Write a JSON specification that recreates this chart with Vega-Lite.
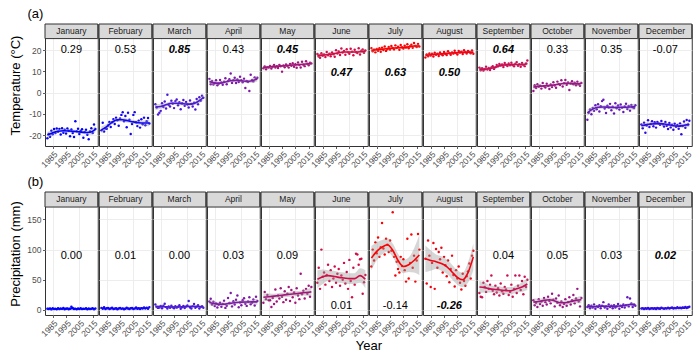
{
"$schema": "https://vega.github.io/schema/vega-lite/v6.json",
"padding": {"left": 8, "top": 8, "right": 12, "bottom": 6},
"data": {"name": "d"},
"datasets": {"d": [
{"m":1,"name":"January","tt":"0.29","ts":false,"pt":"0.00","ps":false},
{"m":2,"name":"February","tt":"0.53","ts":false,"pt":"0.01","ps":false},
{"m":3,"name":"March","tt":"0.85","ts":true,"pt":"0.00","ps":false},
{"m":4,"name":"April","tt":"0.43","ts":false,"pt":"0.03","ps":false},
{"m":5,"name":"May","tt":"0.45","ts":true,"pt":"0.09","ps":false},
{"m":6,"name":"June","tt":"0.47","ts":true,"pt":"0.01","ps":false},
{"m":7,"name":"July","tt":"0.63","ts":true,"pt":"-0.14","ps":false},
{"m":8,"name":"August","tt":"0.50","ts":true,"pt":"-0.26","ps":true},
{"m":9,"name":"September","tt":"0.64","ts":true,"pt":"0.04","ps":false},
{"m":10,"name":"October","tt":"0.33","ts":false,"pt":"0.05","ps":false},
{"m":11,"name":"November","tt":"0.35","ts":false,"pt":"0.03","ps":false},
{"m":12,"name":"December","tt":"-0.07","ts":false,"pt":"0.02","ps":true},
{"m":1,"yr":1981,"f":-20.0,"fl":-21.5,"fh":-18.5,"g":2.2,"gl":1.2,"gh":3.2},
{"m":1,"yr":1985,"f":-18.9,"fl":-20.1,"fh":-17.8,"g":2.1,"gl":1.35,"gh":2.85},
{"m":1,"yr":1989,"f":-18.2,"fl":-19.0,"fh":-17.4,"g":2.1,"gl":1.6,"gh":2.6},
{"m":1,"yr":1993,"f":-18.0,"fl":-18.8,"fh":-17.2,"g":2.2,"gl":1.7,"gh":2.7},
{"m":1,"yr":1997,"f":-18.1,"fl":-18.9,"fh":-17.3,"g":2.3,"gl":1.8,"gh":2.8},
{"m":1,"yr":2001,"f":-18.3,"fl":-19.1,"fh":-17.5,"g":2.2,"gl":1.7,"gh":2.7},
{"m":1,"yr":2005,"f":-18.5,"fl":-19.3,"fh":-17.7,"g":2.1,"gl":1.6,"gh":2.6},
{"m":1,"yr":2009,"f":-18.8,"fl":-19.6,"fh":-18.0,"g":2.1,"gl":1.6,"gh":2.6},
{"m":1,"yr":2013,"f":-18.7,"fl":-19.9,"fh":-17.6,"g":2.1,"gl":1.35,"gh":2.85},
{"m":1,"yr":2017,"f":-17.3,"fl":-18.8,"fh":-15.8,"g":2.0,"gl":1.0,"gh":3.0},
{"m":2,"yr":1981,"f":-17.6,"fl":-19.2,"fh":-16.0,"g":2.8,"gl":1.7,"gh":3.9},
{"m":2,"yr":1985,"f":-16.0,"fl":-17.3,"fh":-14.8,"g":2.6,"gl":1.8,"gh":3.4},
{"m":2,"yr":1989,"f":-14.0,"fl":-14.9,"fh":-13.1,"g":2.5,"gl":2.0,"gh":3.0},
{"m":2,"yr":1993,"f":-12.8,"fl":-13.7,"fh":-11.9,"g":2.5,"gl":2.0,"gh":3.0},
{"m":2,"yr":1997,"f":-12.8,"fl":-13.7,"fh":-11.9,"g":2.5,"gl":2.0,"gh":3.0},
{"m":2,"yr":2001,"f":-13.3,"fl":-14.2,"fh":-12.4,"g":2.4,"gl":1.9,"gh":2.9},
{"m":2,"yr":2005,"f":-13.8,"fl":-14.7,"fh":-12.9,"g":2.5,"gl":2.0,"gh":3.0},
{"m":2,"yr":2009,"f":-14.2,"fl":-15.1,"fh":-13.3,"g":2.7,"gl":2.2,"gh":3.2},
{"m":2,"yr":2013,"f":-14.3,"fl":-15.6,"fh":-13.1,"g":3.0,"gl":2.2,"gh":3.8},
{"m":2,"yr":2017,"f":-14.3,"fl":-15.9,"fh":-12.7,"g":3.4,"gl":2.3,"gh":4.5},
{"m":3,"yr":1981,"f":-6.8,"fl":-8.2,"fh":-5.4,"g":5.8,"gl":3.3,"gh":8.3},
{"m":3,"yr":1985,"f":-6.5,"fl":-7.6,"fh":-5.4,"g":5.6,"gl":3.75,"gh":7.45},
{"m":3,"yr":1989,"f":-5.7,"fl":-6.5,"fh":-4.9,"g":5.2,"gl":4.0,"gh":6.4},
{"m":3,"yr":1993,"f":-5.0,"fl":-5.8,"fh":-4.2,"g":5.0,"gl":3.8,"gh":6.2},
{"m":3,"yr":1997,"f":-5.0,"fl":-5.8,"fh":-4.2,"g":5.0,"gl":3.8,"gh":6.2},
{"m":3,"yr":2001,"f":-5.2,"fl":-6.0,"fh":-4.4,"g":5.2,"gl":4.0,"gh":6.4},
{"m":3,"yr":2005,"f":-5.4,"fl":-6.2,"fh":-4.6,"g":5.8,"gl":4.6,"gh":7.0},
{"m":3,"yr":2009,"f":-5.3,"fl":-6.1,"fh":-4.5,"g":6.2,"gl":5.0,"gh":7.4},
{"m":3,"yr":2013,"f":-4.2,"fl":-5.3,"fh":-3.1,"g":5.8,"gl":3.95,"gh":7.65},
{"m":3,"yr":2017,"f":-2.3,"fl":-3.7,"fh":-0.9,"g":5.0,"gl":2.5,"gh":7.5},
{"m":4,"yr":1981,"f":5.2,"fl":3.9,"fh":6.5,"g":12.5,"gl":7.5,"gh":17.5},
{"m":4,"yr":1985,"f":4.5,"fl":3.5,"fh":5.5,"g":10.5,"gl":6.6,"gh":14.4},
{"m":4,"yr":1989,"f":4.5,"fl":3.8,"fh":5.2,"g":9.5,"gl":6.7,"gh":12.3},
{"m":4,"yr":1993,"f":5.0,"fl":4.3,"fh":5.7,"g":9.8,"gl":7.0,"gh":12.6},
{"m":4,"yr":1997,"f":5.6,"fl":4.9,"fh":6.3,"g":11.2,"gl":8.4,"gh":14.0},
{"m":4,"yr":2001,"f":5.8,"fl":5.1,"fh":6.5,"g":12.5,"gl":9.7,"gh":15.3},
{"m":4,"yr":2005,"f":5.6,"fl":4.9,"fh":6.3,"g":13.0,"gl":10.2,"gh":15.8},
{"m":4,"yr":2009,"f":5.3,"fl":4.6,"fh":6.0,"g":13.3,"gl":10.5,"gh":16.1},
{"m":4,"yr":2013,"f":5.6,"fl":4.6,"fh":6.6,"g":13.5,"gl":9.6,"gh":17.4},
{"m":4,"yr":2017,"f":6.5,"fl":5.2,"fh":7.8,"g":13.5,"gl":8.5,"gh":18.5},
{"m":5,"yr":1981,"f":11.9,"fl":11.1,"fh":12.7,"g":21,"gl":14,"gh":28},
{"m":5,"yr":1985,"f":12.1,"fl":11.5,"fh":12.7,"g":22,"gl":16.5,"gh":27.5},
{"m":5,"yr":1989,"f":12.3,"fl":11.85,"fh":12.75,"g":23,"gl":19,"gh":27},
{"m":5,"yr":1993,"f":12.5,"fl":12.05,"fh":12.95,"g":24,"gl":20,"gh":28},
{"m":5,"yr":1997,"f":12.7,"fl":12.25,"fh":13.15,"g":25,"gl":21,"gh":29},
{"m":5,"yr":2001,"f":12.9,"fl":12.45,"fh":13.35,"g":26,"gl":22,"gh":30},
{"m":5,"yr":2005,"f":13.1,"fl":12.65,"fh":13.55,"g":27,"gl":23,"gh":31},
{"m":5,"yr":2009,"f":13.3,"fl":12.85,"fh":13.75,"g":28,"gl":24,"gh":32},
{"m":5,"yr":2013,"f":13.5,"fl":12.9,"fh":14.1,"g":29,"gl":23.5,"gh":34.5},
{"m":5,"yr":2017,"f":13.7,"fl":12.9,"fh":14.5,"g":30,"gl":23,"gh":37},
{"m":6,"yr":1981,"f":17.6,"fl":16.6,"fh":18.6,"g":51,"gl":36,"gh":66},
{"m":6,"yr":1985,"f":17.7,"fl":16.95,"fh":18.45,"g":55,"gl":43,"gh":67},
{"m":6,"yr":1989,"f":18.0,"fl":17.5,"fh":18.5,"g":57,"gl":48,"gh":66},
{"m":6,"yr":1993,"f":18.3,"fl":17.8,"fh":18.8,"g":56,"gl":47,"gh":65},
{"m":6,"yr":1997,"f":18.8,"fl":18.3,"fh":19.3,"g":54,"gl":45,"gh":63},
{"m":6,"yr":2001,"f":19.2,"fl":18.7,"fh":19.7,"g":53,"gl":44,"gh":62},
{"m":6,"yr":2005,"f":19.2,"fl":18.7,"fh":19.7,"g":52,"gl":43,"gh":61},
{"m":6,"yr":2009,"f":19.2,"fl":18.7,"fh":19.7,"g":52,"gl":43,"gh":61},
{"m":6,"yr":2013,"f":19.3,"fl":18.55,"fh":20.05,"g":57,"gl":45,"gh":69},
{"m":6,"yr":2017,"f":19.6,"fl":18.6,"fh":20.6,"g":51,"gl":36,"gh":66},
{"m":7,"yr":1981,"f":20.0,"fl":19.1,"fh":20.9,"g":86,"gl":66,"gh":106},
{"m":7,"yr":1985,"f":20.2,"fl":19.5,"fh":20.9,"g":97,"gl":82,"gh":112},
{"m":7,"yr":1989,"f":20.5,"fl":20.0,"fh":21.0,"g":104,"gl":92,"gh":116},
{"m":7,"yr":1993,"f":20.8,"fl":20.3,"fh":21.3,"g":108,"gl":97,"gh":119},
{"m":7,"yr":1997,"f":21.0,"fl":20.5,"fh":21.5,"g":99,"gl":88,"gh":110},
{"m":7,"yr":2001,"f":21.2,"fl":20.7,"fh":21.7,"g":82,"gl":71,"gh":93},
{"m":7,"yr":2005,"f":21.3,"fl":20.8,"fh":21.8,"g":72,"gl":61,"gh":83},
{"m":7,"yr":2009,"f":21.6,"fl":21.1,"fh":22.1,"g":75,"gl":63,"gh":87},
{"m":7,"yr":2013,"f":22.0,"fl":21.3,"fh":22.7,"g":82,"gl":62,"gh":102},
{"m":7,"yr":2017,"f":22.0,"fl":21.1,"fh":22.9,"g":91,"gl":58,"gh":124},
{"m":8,"yr":1981,"f":17.6,"fl":16.8,"fh":18.4,"g":85,"gl":63,"gh":107},
{"m":8,"yr":1985,"f":17.9,"fl":17.3,"fh":18.5,"g":82,"gl":65,"gh":99},
{"m":8,"yr":1989,"f":18.1,"fl":17.65,"fh":18.55,"g":80,"gl":68,"gh":92},
{"m":8,"yr":1993,"f":18.3,"fl":17.85,"fh":18.75,"g":77,"gl":65,"gh":89},
{"m":8,"yr":1997,"f":18.5,"fl":18.05,"fh":18.95,"g":72,"gl":60,"gh":84},
{"m":8,"yr":2001,"f":18.7,"fl":18.25,"fh":19.15,"g":63,"gl":51,"gh":75},
{"m":8,"yr":2005,"f":18.8,"fl":18.35,"fh":19.25,"g":54,"gl":42,"gh":66},
{"m":8,"yr":2009,"f":19.0,"fl":18.55,"fh":19.45,"g":50,"gl":38,"gh":62},
{"m":8,"yr":2013,"f":19.1,"fl":18.5,"fh":19.7,"g":62,"gl":45,"gh":79},
{"m":8,"yr":2017,"f":19.0,"fl":18.2,"fh":19.8,"g":88,"gl":66,"gh":110},
{"m":9,"yr":1981,"f":11.1,"fl":10.2,"fh":12.0,"g":38,"gl":28,"gh":48},
{"m":9,"yr":1985,"f":11.1,"fl":10.4,"fh":11.8,"g":37,"gl":29,"gh":45},
{"m":9,"yr":1989,"f":11.4,"fl":10.9,"fh":11.9,"g":35,"gl":29,"gh":41},
{"m":9,"yr":1993,"f":12.0,"fl":11.5,"fh":12.5,"g":34,"gl":28,"gh":40},
{"m":9,"yr":1997,"f":12.8,"fl":12.3,"fh":13.3,"g":33,"gl":27,"gh":39},
{"m":9,"yr":2001,"f":13.1,"fl":12.6,"fh":13.6,"g":32,"gl":26,"gh":38},
{"m":9,"yr":2005,"f":13.2,"fl":12.7,"fh":13.7,"g":32,"gl":26,"gh":38},
{"m":9,"yr":2009,"f":13.3,"fl":12.8,"fh":13.8,"g":35,"gl":29,"gh":41},
{"m":9,"yr":2013,"f":13.2,"fl":12.5,"fh":13.9,"g":38,"gl":30,"gh":46},
{"m":9,"yr":2017,"f":13.8,"fl":12.9,"fh":14.7,"g":43,"gl":33,"gh":53},
{"m":10,"yr":1981,"f":2.6,"fl":1.5,"fh":3.7,"g":13,"gl":7,"gh":19},
{"m":10,"yr":1985,"f":3.0,"fl":2.15,"fh":3.85,"g":14,"gl":9.25,"gh":18.75},
{"m":10,"yr":1989,"f":3.2,"fl":2.6,"fh":3.8,"g":16,"gl":12.5,"gh":19.5},
{"m":10,"yr":1993,"f":3.3,"fl":2.7,"fh":3.9,"g":17,"gl":13.5,"gh":20.5},
{"m":10,"yr":1997,"f":3.7,"fl":3.1,"fh":4.3,"g":15,"gl":11.5,"gh":18.5},
{"m":10,"yr":2001,"f":4.1,"fl":3.5,"fh":4.7,"g":12,"gl":8.5,"gh":15.5},
{"m":10,"yr":2005,"f":4.4,"fl":3.8,"fh":5.0,"g":12,"gl":8.5,"gh":15.5},
{"m":10,"yr":2009,"f":4.3,"fl":3.7,"fh":4.9,"g":14,"gl":10.5,"gh":17.5},
{"m":10,"yr":2013,"f":4.2,"fl":3.35,"fh":5.05,"g":16,"gl":11.25,"gh":20.75},
{"m":10,"yr":2017,"f":4.3,"fl":3.2,"fh":5.4,"g":17,"gl":11,"gh":23},
{"m":11,"yr":1981,"f":-9.5,"fl":-11.0,"fh":-8.0,"g":6,"gl":3,"gh":9},
{"m":11,"yr":1985,"f":-7.8,"fl":-8.95,"fh":-6.65,"g":5.5,"gl":3.1,"gh":7.9},
{"m":11,"yr":1989,"f":-6.9,"fl":-7.7,"fh":-6.1,"g":6,"gl":4.2,"gh":7.8},
{"m":11,"yr":1993,"f":-6.8,"fl":-7.6,"fh":-6.0,"g":6.5,"gl":4.7,"gh":8.3},
{"m":11,"yr":1997,"f":-6.9,"fl":-7.7,"fh":-6.1,"g":6,"gl":4.2,"gh":7.8},
{"m":11,"yr":2001,"f":-7.0,"fl":-7.8,"fh":-6.2,"g":6,"gl":4.2,"gh":7.8},
{"m":11,"yr":2005,"f":-6.9,"fl":-7.7,"fh":-6.1,"g":6.5,"gl":4.7,"gh":8.3},
{"m":11,"yr":2009,"f":-6.9,"fl":-7.7,"fh":-6.1,"g":7.5,"gl":5.7,"gh":9.3},
{"m":11,"yr":2013,"f":-6.8,"fl":-7.95,"fh":-5.65,"g":9,"gl":6.6,"gh":11.4},
{"m":11,"yr":2017,"f":-6.6,"fl":-8.1,"fh":-5.1,"g":8.5,"gl":5.5,"gh":11.5},
{"m":12,"yr":1981,"f":-15.6,"fl":-16.8,"fh":-14.4,"g":2.5,"gl":1.6,"gh":3.4},
{"m":12,"yr":1985,"f":-15.1,"fl":-16.05,"fh":-14.15,"g":2.6,"gl":1.8,"gh":3.4},
{"m":12,"yr":1989,"f":-14.8,"fl":-15.5,"fh":-14.1,"g":2.6,"gl":2.1,"gh":3.1},
{"m":12,"yr":1993,"f":-14.6,"fl":-15.3,"fh":-13.9,"g":2.7,"gl":2.2,"gh":3.2},
{"m":12,"yr":1997,"f":-14.7,"fl":-15.4,"fh":-14.0,"g":2.8,"gl":2.3,"gh":3.3},
{"m":12,"yr":2001,"f":-15.1,"fl":-15.8,"fh":-14.4,"g":3.0,"gl":2.5,"gh":3.5},
{"m":12,"yr":2005,"f":-15.6,"fl":-16.3,"fh":-14.9,"g":3.2,"gl":2.7,"gh":3.7},
{"m":12,"yr":2009,"f":-15.8,"fl":-16.5,"fh":-15.1,"g":3.5,"gl":3.0,"gh":4.0},
{"m":12,"yr":2013,"f":-15.4,"fl":-16.35,"fh":-14.45,"g":3.9,"gl":3.2,"gh":4.6},
{"m":12,"yr":2017,"f":-15.0,"fl":-16.2,"fh":-13.8,"g":4.4,"gl":3.5,"gh":5.3},
{"m":1,"yr":1981,"t":-21.5,"p":2.0},{"m":1,"yr":1982,"t":-19.5,"p":1.5},{"m":1,"yr":1983,"t":-20.8,"p":2.5},{"m":1,"yr":1984,"t":-18.0,"p":1.0},{"m":1,"yr":1985,"t":-19.6,"p":3.0},{"m":1,"yr":1986,"t":-17.2,"p":1.8},{"m":1,"yr":1987,"t":-19.0,"p":2.2},{"m":1,"yr":1988,"t":-16.9,"p":1.2},{"m":1,"yr":1989,"t":-18.5,"p":2.8},{"m":1,"yr":1990,"t":-17.1,"p":1.6},
{"m":1,"yr":1991,"t":-19.8,"p":2.4},{"m":1,"yr":1992,"t":-16.8,"p":1.9},{"m":1,"yr":1993,"t":-18.9,"p":3.2},{"m":1,"yr":1994,"t":-17.5,"p":1.4},{"m":1,"yr":1995,"t":-19.3,"p":2.1},{"m":1,"yr":1996,"t":-16.9,"p":2.7},{"m":1,"yr":1997,"t":-18.0,"p":1.3},{"m":1,"yr":1998,"t":-20.6,"p":2.0},{"m":1,"yr":1999,"t":-17.4,"p":5.5},{"m":1,"yr":2000,"t":-19.0,"p":3.5},
{"m":1,"yr":2001,"t":-20.9,"p":1.7},{"m":1,"yr":2002,"t":-13.5,"p":2.3},{"m":1,"yr":2003,"t":-18.2,"p":1.1},{"m":1,"yr":2004,"t":-17.0,"p":2.6},{"m":1,"yr":2005,"t":-19.5,"p":1.8},{"m":1,"yr":2006,"t":-18.1,"p":3.0},{"m":1,"yr":2007,"t":-17.3,"p":1.5},{"m":1,"yr":2008,"t":-21.3,"p":2.2},{"m":1,"yr":2009,"t":-18.6,"p":1.9},{"m":1,"yr":2010,"t":-17.5,"p":2.9},
{"m":1,"yr":2011,"t":-19.9,"p":1.4},{"m":1,"yr":2012,"t":-22.0,"p":2.5},{"m":1,"yr":2013,"t":-18.3,"p":1.6},{"m":1,"yr":2014,"t":-16.8,"p":2.0},{"m":1,"yr":2015,"t":-19.0,"p":3.1},{"m":1,"yr":2016,"t":-15.0,"p":1.2},{"m":1,"yr":2017,"t":-17.2,"p":2.4},
{"m":2,"yr":1981,"t":-17.8,"p":3.5},{"m":2,"yr":1982,"t":-14.2,"p":2.0},{"m":2,"yr":1983,"t":-18.3,"p":4.5},{"m":2,"yr":1984,"t":-16.9,"p":1.5},{"m":2,"yr":1985,"t":-17.0,"p":2.8},{"m":2,"yr":1986,"t":-15.5,"p":3.2},{"m":2,"yr":1987,"t":-13.8,"p":1.8},{"m":2,"yr":1988,"t":-16.2,"p":2.4},{"m":2,"yr":1989,"t":-14.0,"p":3.8},{"m":2,"yr":1990,"t":-12.5,"p":1.6},
{"m":2,"yr":1991,"t":-14.8,"p":2.2},{"m":2,"yr":1992,"t":-11.8,"p":3.0},{"m":2,"yr":1993,"t":-13.0,"p":1.4},{"m":2,"yr":1994,"t":-15.6,"p":2.6},{"m":2,"yr":1995,"t":-12.2,"p":3.4},{"m":2,"yr":1996,"t":-10.5,"p":1.9},{"m":2,"yr":1997,"t":-9.3,"p":2.7},{"m":2,"yr":1998,"t":-13.5,"p":1.3},{"m":2,"yr":1999,"t":-11.0,"p":2.1},{"m":2,"yr":2000,"t":-16.3,"p":3.6},
{"m":2,"yr":2001,"t":-9.5,"p":2.5},{"m":2,"yr":2002,"t":-12.8,"p":1.7},{"m":2,"yr":2003,"t":-19.5,"p":2.9},{"m":2,"yr":2004,"t":-14.8,"p":3.3},{"m":2,"yr":2005,"t":-10.5,"p":1.5},{"m":2,"yr":2006,"t":-9.2,"p":2.3},{"m":2,"yr":2007,"t":-14.0,"p":4.0},{"m":2,"yr":2008,"t":-15.8,"p":2.0},{"m":2,"yr":2009,"t":-13.2,"p":2.8},{"m":2,"yr":2010,"t":-16.5,"p":1.8},
{"m":2,"yr":2011,"t":-12.6,"p":3.1},{"m":2,"yr":2012,"t":-14.9,"p":2.4},{"m":2,"yr":2013,"t":-11.8,"p":4.2},{"m":2,"yr":2014,"t":-15.4,"p":2.6},{"m":2,"yr":2015,"t":-13.5,"p":3.9},{"m":2,"yr":2016,"t":-12.0,"p":2.2},{"m":2,"yr":2017,"t":-14.6,"p":4.8},
{"m":3,"yr":1981,"t":-5.5,"p":9.0},{"m":3,"yr":1982,"t":-7.0,"p":5.0},{"m":3,"yr":1983,"t":-10.3,"p":3.5},{"m":3,"yr":1984,"t":-9.5,"p":4.2},{"m":3,"yr":1985,"t":-8.6,"p":6.5},{"m":3,"yr":1986,"t":-5.0,"p":3.0},{"m":3,"yr":1987,"t":-6.8,"p":7.2},{"m":3,"yr":1988,"t":-4.2,"p":10.5},{"m":3,"yr":1989,"t":-7.5,"p":4.8},{"m":3,"yr":1990,"t":-1.0,"p":2.5},
{"m":3,"yr":1991,"t":-5.8,"p":5.8},{"m":3,"yr":1992,"t":-6.5,"p":3.6},{"m":3,"yr":1993,"t":-3.8,"p":7.0},{"m":3,"yr":1994,"t":-5.2,"p":4.4},{"m":3,"yr":1995,"t":-7.3,"p":2.8},{"m":3,"yr":1996,"t":-4.0,"p":6.2},{"m":3,"yr":1997,"t":-3.2,"p":3.9},{"m":3,"yr":1998,"t":-6.0,"p":5.3},{"m":3,"yr":1999,"t":-4.5,"p":8.0},{"m":3,"yr":2000,"t":-7.8,"p":2.2},
{"m":3,"yr":2001,"t":-5.0,"p":4.6},{"m":3,"yr":2002,"t":-3.5,"p":6.8},{"m":3,"yr":2003,"t":-6.2,"p":3.3},{"m":3,"yr":2004,"t":-4.4,"p":5.6},{"m":3,"yr":2005,"t":-5.6,"p":7.5},{"m":3,"yr":2006,"t":-7.0,"p":15.0},{"m":3,"yr":2007,"t":-3.7,"p":4.0},{"m":3,"yr":2008,"t":-5.3,"p":2.6},{"m":3,"yr":2009,"t":-6.5,"p":6.0},{"m":3,"yr":2010,"t":-4.8,"p":9.8},
{"m":3,"yr":2011,"t":-8.0,"p":3.7},{"m":3,"yr":2012,"t":-3.0,"p":5.2},{"m":3,"yr":2013,"t":-5.5,"p":7.8},{"m":3,"yr":2014,"t":-2.2,"p":2.4},{"m":3,"yr":2015,"t":-3.8,"p":4.9},{"m":3,"yr":2016,"t":-1.5,"p":6.4},{"m":3,"yr":2017,"t":-2.4,"p":3.8},
{"m":4,"yr":1981,"t":6.5,"p":14.0},{"m":4,"yr":1982,"t":4.0,"p":18.5},{"m":4,"yr":1983,"t":5.5,"p":9.0},{"m":4,"yr":1984,"t":3.8,"p":13.5},{"m":4,"yr":1985,"t":4.5,"p":6.5},{"m":4,"yr":1986,"t":5.8,"p":11.0},{"m":4,"yr":1987,"t":3.5,"p":4.0},{"m":4,"yr":1988,"t":4.2,"p":8.5},{"m":4,"yr":1989,"t":6.0,"p":12.0},{"m":4,"yr":1990,"t":4.8,"p":5.5},
{"m":4,"yr":1991,"t":3.7,"p":9.8},{"m":4,"yr":1992,"t":5.2,"p":15.5},{"m":4,"yr":1993,"t":6.8,"p":3.5},{"m":4,"yr":1994,"t":4.0,"p":7.0},{"m":4,"yr":1995,"t":5.5,"p":20.0},{"m":4,"yr":1996,"t":6.3,"p":11.5},{"m":4,"yr":1997,"t":9.0,"p":28.0},{"m":4,"yr":1998,"t":4.6,"p":6.0},{"m":4,"yr":1999,"t":5.9,"p":14.5},{"m":4,"yr":2000,"t":7.0,"p":9.0},
{"m":4,"yr":2001,"t":4.5,"p":17.0},{"m":4,"yr":2002,"t":6.2,"p":24.0},{"m":4,"yr":2003,"t":5.0,"p":4.5},{"m":4,"yr":2004,"t":7.5,"p":12.5},{"m":4,"yr":2005,"t":5.8,"p":8.0},{"m":4,"yr":2006,"t":4.9,"p":16.0},{"m":4,"yr":2007,"t":6.6,"p":19.5},{"m":4,"yr":2008,"t":2.2,"p":10.5},{"m":4,"yr":2009,"t":5.5,"p":6.8},{"m":4,"yr":2010,"t":5.0,"p":14.0},
{"m":4,"yr":2011,"t":0.8,"p":21.0},{"m":4,"yr":2012,"t":8.4,"p":9.5},{"m":4,"yr":2013,"t":6.0,"p":12.0},{"m":4,"yr":2014,"t":5.3,"p":17.5},{"m":4,"yr":2015,"t":7.2,"p":7.5},{"m":4,"yr":2016,"t":6.4,"p":22.0},{"m":4,"yr":2017,"t":7.0,"p":15.0},
{"m":5,"yr":1981,"t":11.5,"p":12},{"m":5,"yr":1982,"t":12.3,"p":30},{"m":5,"yr":1983,"t":11.0,"p":18},{"m":5,"yr":1984,"t":12.0,"p":25},{"m":5,"yr":1985,"t":11.8,"p":16},{"m":5,"yr":1986,"t":12.6,"p":16},{"m":5,"yr":1987,"t":11.4,"p":5},{"m":5,"yr":1988,"t":12.2,"p":20},{"m":5,"yr":1989,"t":13.0,"p":10},{"m":5,"yr":1990,"t":11.9,"p":34},
{"m":5,"yr":1991,"t":12.5,"p":14},{"m":5,"yr":1992,"t":11.6,"p":24},{"m":5,"yr":1993,"t":13.1,"p":19},{"m":5,"yr":1994,"t":12.4,"p":36},{"m":5,"yr":1995,"t":9.9,"p":22},{"m":5,"yr":1996,"t":12.8,"p":13},{"m":5,"yr":1997,"t":12.0,"p":31},{"m":5,"yr":1998,"t":13.3,"p":17},{"m":5,"yr":1999,"t":12.6,"p":27},{"m":5,"yr":2000,"t":11.8,"p":38},
{"m":5,"yr":2001,"t":13.5,"p":15},{"m":5,"yr":2002,"t":12.7,"p":33},{"m":5,"yr":2003,"t":13.9,"p":21},{"m":5,"yr":2004,"t":12.2,"p":29},{"m":5,"yr":2005,"t":13.4,"p":12},{"m":5,"yr":2006,"t":11.7,"p":36},{"m":5,"yr":2007,"t":14.2,"p":24},{"m":5,"yr":2008,"t":13.0,"p":18},{"m":5,"yr":2009,"t":11.9,"p":60},{"m":5,"yr":2010,"t":14.6,"p":26},
{"m":5,"yr":2011,"t":13.2,"p":32},{"m":5,"yr":2012,"t":12.5,"p":19},{"m":5,"yr":2013,"t":14.8,"p":35},{"m":5,"yr":2014,"t":13.6,"p":27},{"m":5,"yr":2015,"t":12.9,"p":40},{"m":5,"yr":2016,"t":14.1,"p":22},{"m":5,"yr":2017,"t":13.8,"p":38},
{"m":6,"yr":1981,"t":18.2,"p":45},{"m":6,"yr":1982,"t":17.0,"p":70},{"m":6,"yr":1983,"t":16.5,"p":35},{"m":6,"yr":1984,"t":18.6,"p":100},{"m":6,"yr":1985,"t":17.4,"p":55},{"m":6,"yr":1986,"t":18.0,"p":62},{"m":6,"yr":1987,"t":16.8,"p":42},{"m":6,"yr":1988,"t":19.2,"p":58},{"m":6,"yr":1989,"t":17.6,"p":75},{"m":6,"yr":1990,"t":18.4,"p":48},
{"m":6,"yr":1991,"t":17.2,"p":66},{"m":6,"yr":1992,"t":19.0,"p":38},{"m":6,"yr":1993,"t":18.1,"p":52},{"m":6,"yr":1994,"t":16.9,"p":72},{"m":6,"yr":1995,"t":20.0,"p":45},{"m":6,"yr":1996,"t":18.5,"p":60},{"m":6,"yr":1997,"t":19.4,"p":68},{"m":6,"yr":1998,"t":17.8,"p":40},{"m":6,"yr":1999,"t":20.8,"p":57},{"m":6,"yr":2000,"t":18.9,"p":50},
{"m":6,"yr":2001,"t":19.6,"p":78},{"m":6,"yr":2002,"t":17.9,"p":44},{"m":6,"yr":2003,"t":20.5,"p":63},{"m":6,"yr":2004,"t":19.0,"p":35},{"m":6,"yr":2005,"t":18.3,"p":83},{"m":6,"yr":2006,"t":20.7,"p":48},{"m":6,"yr":2007,"t":19.3,"p":21},{"m":6,"yr":2008,"t":17.6,"p":70},{"m":6,"yr":2009,"t":20.2,"p":42},{"m":6,"yr":2010,"t":19.1,"p":93},
{"m":6,"yr":2011,"t":18.7,"p":92},{"m":6,"yr":2012,"t":20.9,"p":75},{"m":6,"yr":2013,"t":18.0,"p":84},{"m":6,"yr":2014,"t":19.8,"p":85},{"m":6,"yr":2015,"t":20.4,"p":27},{"m":6,"yr":2016,"t":18.8,"p":46},{"m":6,"yr":2017,"t":19.9,"p":58},
{"m":7,"yr":1981,"t":21.0,"p":72},{"m":7,"yr":1982,"t":19.5,"p":100},{"m":7,"yr":1983,"t":20.2,"p":82},{"m":7,"yr":1984,"t":19.0,"p":112},{"m":7,"yr":1985,"t":20.6,"p":94},{"m":7,"yr":1986,"t":19.8,"p":120},{"m":7,"yr":1987,"t":20.9,"p":88},{"m":7,"yr":1988,"t":19.3,"p":104},{"m":7,"yr":1989,"t":21.2,"p":144},{"m":7,"yr":1990,"t":20.1,"p":102},
{"m":7,"yr":1991,"t":21.8,"p":92},{"m":7,"yr":1992,"t":19.7,"p":118},{"m":7,"yr":1993,"t":20.5,"p":108},{"m":7,"yr":1994,"t":21.5,"p":96},{"m":7,"yr":1995,"t":20.3,"p":115},{"m":7,"yr":1996,"t":22.0,"p":98},{"m":7,"yr":1997,"t":21.1,"p":162},{"m":7,"yr":1998,"t":20.4,"p":88},{"m":7,"yr":1999,"t":22.3,"p":57},{"m":7,"yr":2000,"t":21.0,"p":80},
{"m":7,"yr":2001,"t":21.7,"p":68},{"m":7,"yr":2002,"t":20.2,"p":62},{"m":7,"yr":2003,"t":22.5,"p":88},{"m":7,"yr":2004,"t":21.4,"p":73},{"m":7,"yr":2005,"t":20.8,"p":84},{"m":7,"yr":2006,"t":22.1,"p":66},{"m":7,"yr":2007,"t":21.3,"p":47},{"m":7,"yr":2008,"t":22.8,"p":118},{"m":7,"yr":2009,"t":20.9,"p":52},{"m":7,"yr":2010,"t":21.9,"p":78},
{"m":7,"yr":2011,"t":22.6,"p":125},{"m":7,"yr":2012,"t":21.2,"p":70},{"m":7,"yr":2013,"t":23.4,"p":90},{"m":7,"yr":2014,"t":22.0,"p":47},{"m":7,"yr":2015,"t":21.5,"p":82},{"m":7,"yr":2016,"t":22.9,"p":126},{"m":7,"yr":2017,"t":21.8,"p":100},
{"m":8,"yr":1981,"t":16.6,"p":85},{"m":8,"yr":1982,"t":18.0,"p":44},{"m":8,"yr":1983,"t":17.2,"p":115},{"m":8,"yr":1984,"t":18.5,"p":90},{"m":8,"yr":1985,"t":17.5,"p":38},{"m":8,"yr":1986,"t":18.3,"p":78},{"m":8,"yr":1987,"t":17.0,"p":111},{"m":8,"yr":1988,"t":18.8,"p":35},{"m":8,"yr":1989,"t":17.9,"p":101},{"m":8,"yr":1990,"t":18.4,"p":70},
{"m":8,"yr":1991,"t":17.3,"p":96},{"m":8,"yr":1992,"t":18.9,"p":84},{"m":8,"yr":1993,"t":18.1,"p":103},{"m":8,"yr":1994,"t":17.6,"p":62},{"m":8,"yr":1995,"t":19.2,"p":88},{"m":8,"yr":1996,"t":18.2,"p":74},{"m":8,"yr":1997,"t":17.8,"p":56},{"m":8,"yr":1998,"t":19.5,"p":82},{"m":8,"yr":1999,"t":18.6,"p":46},{"m":8,"yr":2000,"t":17.9,"p":68},
{"m":8,"yr":2001,"t":19.0,"p":90},{"m":8,"yr":2002,"t":18.4,"p":58},{"m":8,"yr":2003,"t":19.8,"p":39},{"m":8,"yr":2004,"t":18.7,"p":66},{"m":8,"yr":2005,"t":18.0,"p":52},{"m":8,"yr":2006,"t":19.6,"p":72},{"m":8,"yr":2007,"t":18.9,"p":45},{"m":8,"yr":2008,"t":19.3,"p":34},{"m":8,"yr":2009,"t":18.2,"p":60},{"m":8,"yr":2010,"t":20.0,"p":48},
{"m":8,"yr":2011,"t":19.1,"p":40},{"m":8,"yr":2012,"t":18.5,"p":56},{"m":8,"yr":2013,"t":19.7,"p":64},{"m":8,"yr":2014,"t":19.2,"p":77},{"m":8,"yr":2015,"t":18.6,"p":52},{"m":8,"yr":2016,"t":19.9,"p":90},{"m":8,"yr":2017,"t":18.3,"p":98},
{"m":9,"yr":1981,"t":11.8,"p":28},{"m":9,"yr":1982,"t":10.6,"p":22},{"m":9,"yr":1983,"t":11.5,"p":21},{"m":9,"yr":1984,"t":10.4,"p":45},{"m":9,"yr":1985,"t":11.0,"p":38},{"m":9,"yr":1986,"t":12.2,"p":30},{"m":9,"yr":1987,"t":10.9,"p":48},{"m":9,"yr":1988,"t":11.6,"p":35},{"m":9,"yr":1989,"t":10.7,"p":42},{"m":9,"yr":1990,"t":11.9,"p":57},
{"m":9,"yr":1991,"t":12.5,"p":32},{"m":9,"yr":1992,"t":11.2,"p":26},{"m":9,"yr":1993,"t":12.0,"p":40},{"m":9,"yr":1994,"t":13.0,"p":29},{"m":9,"yr":1995,"t":12.4,"p":36},{"m":9,"yr":1996,"t":13.5,"p":24},{"m":9,"yr":1997,"t":12.8,"p":44},{"m":9,"yr":1998,"t":13.3,"p":31},{"m":9,"yr":1999,"t":12.1,"p":27},{"m":9,"yr":2000,"t":14.0,"p":38},
{"m":9,"yr":2001,"t":13.2,"p":34},{"m":9,"yr":2002,"t":12.6,"p":57},{"m":9,"yr":2003,"t":13.8,"p":25},{"m":9,"yr":2004,"t":12.9,"p":30},{"m":9,"yr":2005,"t":14.1,"p":42},{"m":9,"yr":2006,"t":13.0,"p":22},{"m":9,"yr":2007,"t":12.4,"p":35},{"m":9,"yr":2008,"t":13.6,"p":57},{"m":9,"yr":2009,"t":14.4,"p":28},{"m":9,"yr":2010,"t":12.7,"p":40},
{"m":9,"yr":2011,"t":13.4,"p":57},{"m":9,"yr":2012,"t":12.2,"p":33},{"m":9,"yr":2013,"t":14.0,"p":48},{"m":9,"yr":2014,"t":13.1,"p":26},{"m":9,"yr":2015,"t":12.5,"p":55},{"m":9,"yr":2016,"t":13.7,"p":38},{"m":9,"yr":2017,"t":15.2,"p":50},
{"m":10,"yr":1981,"t":0.8,"p":16},{"m":10,"yr":1982,"t":3.5,"p":8},{"m":10,"yr":1983,"t":2.2,"p":12},{"m":10,"yr":1984,"t":4.0,"p":5},{"m":10,"yr":1985,"t":2.8,"p":18},{"m":10,"yr":1986,"t":3.3,"p":10},{"m":10,"yr":1987,"t":1.9,"p":14},{"m":10,"yr":1988,"t":4.6,"p":7},{"m":10,"yr":1989,"t":3.0,"p":20},{"m":10,"yr":1990,"t":2.4,"p":13},
{"m":10,"yr":1991,"t":4.2,"p":9},{"m":10,"yr":1992,"t":3.1,"p":22},{"m":10,"yr":1993,"t":1.7,"p":15},{"m":10,"yr":1994,"t":3.8,"p":11},{"m":10,"yr":1995,"t":2.6,"p":27},{"m":10,"yr":1996,"t":4.9,"p":17},{"m":10,"yr":1997,"t":3.4,"p":6},{"m":10,"yr":1998,"t":2.3,"p":19},{"m":10,"yr":1999,"t":5.2,"p":12},{"m":10,"yr":2000,"t":4.1,"p":24},
{"m":10,"yr":2001,"t":3.6,"p":8},{"m":10,"yr":2002,"t":5.8,"p":14},{"m":10,"yr":2003,"t":2.9,"p":5},{"m":10,"yr":2004,"t":4.4,"p":10},{"m":10,"yr":2005,"t":6.0,"p":18},{"m":10,"yr":2006,"t":3.7,"p":7},{"m":10,"yr":2007,"t":4.8,"p":13},{"m":10,"yr":2008,"t":1.2,"p":21},{"m":10,"yr":2009,"t":4.3,"p":9},{"m":10,"yr":2010,"t":5.4,"p":16},
{"m":10,"yr":2011,"t":3.9,"p":25},{"m":10,"yr":2012,"t":4.7,"p":11},{"m":10,"yr":2013,"t":3.5,"p":19},{"m":10,"yr":2014,"t":5.1,"p":35},{"m":10,"yr":2015,"t":4.0,"p":14},{"m":10,"yr":2016,"t":3.2,"p":6},{"m":10,"yr":2017,"t":4.6,"p":20},
{"m":11,"yr":1981,"t":-12.8,"p":5},{"m":11,"yr":1982,"t":-9.5,"p":8},{"m":11,"yr":1983,"t":-8.0,"p":3},{"m":11,"yr":1984,"t":-10.2,"p":7},{"m":11,"yr":1985,"t":-7.2,"p":4},{"m":11,"yr":1986,"t":-8.6,"p":9},{"m":11,"yr":1987,"t":-6.0,"p":2},{"m":11,"yr":1988,"t":-7.8,"p":6},{"m":11,"yr":1989,"t":-5.5,"p":5},{"m":11,"yr":1990,"t":-8.9,"p":8},
{"m":11,"yr":1991,"t":-6.4,"p":3},{"m":11,"yr":1992,"t":-4.0,"p":7},{"m":11,"yr":1993,"t":-3.4,"p":13},{"m":11,"yr":1994,"t":-7.5,"p":4},{"m":11,"yr":1995,"t":-9.6,"p":6},{"m":11,"yr":1996,"t":-6.2,"p":2},{"m":11,"yr":1997,"t":-7.0,"p":9},{"m":11,"yr":1998,"t":-5.3,"p":5},{"m":11,"yr":1999,"t":-8.3,"p":7},{"m":11,"yr":2000,"t":-6.7,"p":3},
{"m":11,"yr":2001,"t":-9.8,"p":8},{"m":11,"yr":2002,"t":-5.0,"p":4},{"m":11,"yr":2003,"t":-7.4,"p":6},{"m":11,"yr":2004,"t":-6.1,"p":10},{"m":11,"yr":2005,"t":-8.0,"p":2},{"m":11,"yr":2006,"t":-5.6,"p":7},{"m":11,"yr":2007,"t":-7.1,"p":5},{"m":11,"yr":2008,"t":-9.1,"p":9},{"m":11,"yr":2009,"t":-6.5,"p":4},{"m":11,"yr":2010,"t":-5.2,"p":8},
{"m":11,"yr":2011,"t":-7.7,"p":21},{"m":11,"yr":2012,"t":-6.3,"p":6},{"m":11,"yr":2013,"t":-8.5,"p":19},{"m":11,"yr":2014,"t":-5.8,"p":11},{"m":11,"yr":2015,"t":-6.9,"p":5},{"m":11,"yr":2016,"t":-7.3,"p":9},{"m":11,"yr":2017,"t":-6.0,"p":7},
{"m":12,"yr":1981,"t":-15.0,"p":2.5},{"m":12,"yr":1982,"t":-16.8,"p":3.0},{"m":12,"yr":1983,"t":-14.2,"p":1.8},{"m":12,"yr":1984,"t":-18.9,"p":2.8},{"m":12,"yr":1985,"t":-15.5,"p":2.2},{"m":12,"yr":1986,"t":-13.0,"p":3.5},{"m":12,"yr":1987,"t":-16.2,"p":1.5},{"m":12,"yr":1988,"t":-14.8,"p":2.6},{"m":12,"yr":1989,"t":-13.5,"p":3.1},{"m":12,"yr":1990,"t":-15.9,"p":2.0},
{"m":12,"yr":1991,"t":-14.0,"p":2.9},{"m":12,"yr":1992,"t":-16.5,"p":1.7},{"m":12,"yr":1993,"t":-13.8,"p":3.3},{"m":12,"yr":1994,"t":-14.6,"p":2.4},{"m":12,"yr":1995,"t":-15.2,"p":2.1},{"m":12,"yr":1996,"t":-13.4,"p":3.6},{"m":12,"yr":1997,"t":-14.9,"p":2.7},{"m":12,"yr":1998,"t":-16.0,"p":1.9},{"m":12,"yr":1999,"t":-13.9,"p":3.0},{"m":12,"yr":2000,"t":-15.6,"p":2.3},
{"m":12,"yr":2001,"t":-17.2,"p":3.8},{"m":12,"yr":2002,"t":-14.3,"p":2.5},{"m":12,"yr":2003,"t":-16.4,"p":3.2},{"m":12,"yr":2004,"t":-15.1,"p":4.0},{"m":12,"yr":2005,"t":-17.5,"p":2.6},{"m":12,"yr":2006,"t":-14.7,"p":3.4},{"m":12,"yr":2007,"t":-16.1,"p":2.9},{"m":12,"yr":2008,"t":-15.3,"p":4.5},{"m":12,"yr":2009,"t":-17.0,"p":3.1},{"m":12,"yr":2010,"t":-14.5,"p":3.7},
{"m":12,"yr":2011,"t":-19.6,"p":2.8},{"m":12,"yr":2012,"t":-15.8,"p":4.2},{"m":12,"yr":2013,"t":-13.6,"p":3.5},{"m":12,"yr":2014,"t":-16.6,"p":5.0},{"m":12,"yr":2015,"t":-12.9,"p":3.3},{"m":12,"yr":2016,"t":-15.0,"p":4.6},{"m":12,"yr":2017,"t":-13.3,"p":5.5}
]},
"title": {"text": "Year", "orient": "bottom", "anchor": "middle", "fontSize": 13, "fontWeight": "normal", "offset": 2, "dx": 18},
"spacing": 6,
"vconcat": [
{"title": {"text": "(a)", "anchor": "start", "align": "left", "frame": "bounds", "fontSize": 13, "fontWeight": "normal", "offset": 2, "dx": 19},
 "spacing": 1, "bounds": "flush",
 "hconcat": [
{"width":52.75,"height":122,"transform":[{"filter":"datum.m==1"}],"resolve":{"axis":{"x":"independent","y":"independent"}},"layer":[
{"transform":[{"filter":"isValid(datum.t)"}],"mark":{"type":"circle","size":6,"opacity":1,"color":"#0000ff"},"encoding":{"x":{"field":"yr","type":"quantitative","title":null,"scale":{"domain":[1979.2,2018.8],"nice":false,"zero":false},"axis":{"orient":"bottom","values":[1985,2005],"format":"d","gridWidth":0.9}},"y":{"field":"t","type":"quantitative","title":"Temperature (°C)","scale":{"domain":[-25.18,32.38],"nice":false,"zero":false},"axis":{"orient":"left","values":[-20,0,20],"labelExpr":"'' + datum.value","gridWidth":0.9}}}},
{"transform":[{"filter":"isValid(datum.f)"}],"mark":{"type":"area","color":"#999999","opacity":0.4,"interpolate":"monotone"},"encoding":{"x":{"field":"yr","type":"quantitative","title":null,"axis":{"orient":"bottom","values":[1995,2015],"format":"d","gridWidth":0.9}},"y":{"field":"fl","type":"quantitative","title":null,"axis":{"orient":"left","values":[-10,10],"labelExpr":"'' + datum.value","gridWidth":0.9}},"y2":{"field":"fh"}}},
{"transform":[{"filter":"isValid(datum.f)"}],"mark":{"type":"line","strokeWidth":1.6,"interpolate":"monotone","color":"#0000ff"},"encoding":{"x":{"field":"yr","type":"quantitative","title":null,"axis":{"orient":"bottom","values":[1980,1990,2000,2010],"labels":false,"ticks":false,"gridWidth":0.45}},"y":{"field":"f","type":"quantitative","title":null,"axis":{"orient":"left","values":[-25,-15,-5,5,15,25],"labels":false,"ticks":false,"gridWidth":0.45}}}},
{"transform":[{"filter":"isValid(datum.name)"}],"mark":{"type":"rect","fill":"#d9d9d9","stroke":"#333333","strokeWidth":1},"encoding":{"y":{"datum":25.5,"axis":null},"y2":{"datum":32.38}}},
{"transform":[{"filter":"isValid(datum.name)"}],"mark":{"type":"text","fontSize":8.5,"color":"#1a1a1a"},"encoding":{"y":{"datum":28.94,"axis":null},"text":{"field":"name"}}},
{"transform":[{"filter":"isValid(datum.name)"}],"mark":{"type":"text","fontSize":11,"color":"#000000"},"encoding":{"y":{"datum":20,"axis":null},"text":{"field":"tt"}}}
]},
{"width":52.75,"height":122,"transform":[{"filter":"datum.m==2"}],"resolve":{"axis":{"x":"independent","y":"independent"}},"layer":[
{"transform":[{"filter":"isValid(datum.t)"}],"mark":{"type":"circle","size":6,"opacity":1,"color":"#1005f8"},"encoding":{"x":{"field":"yr","type":"quantitative","title":null,"scale":{"domain":[1979.2,2018.8],"nice":false,"zero":false},"axis":{"orient":"bottom","values":[1985,2005],"format":"d","gridWidth":0.9}},"y":{"field":"t","type":"quantitative","title":null,"scale":{"domain":[-25.18,32.38],"nice":false,"zero":false},"axis":{"orient":"left","values":[-20,-10,0,10,20],"labels":false,"ticks":false,"gridWidth":0.9}}}},
{"transform":[{"filter":"isValid(datum.f)"}],"mark":{"type":"area","color":"#999999","opacity":0.4,"interpolate":"monotone"},"encoding":{"x":{"field":"yr","type":"quantitative","title":null,"axis":{"orient":"bottom","values":[1995,2015],"format":"d","gridWidth":0.9}},"y":{"field":"fl","type":"quantitative","title":null,"axis":null},"y2":{"field":"fh"}}},
{"transform":[{"filter":"isValid(datum.f)"}],"mark":{"type":"line","strokeWidth":1.6,"interpolate":"monotone","color":"#1005f8"},"encoding":{"x":{"field":"yr","type":"quantitative","title":null,"axis":{"orient":"bottom","values":[1980,1990,2000,2010],"labels":false,"ticks":false,"gridWidth":0.45}},"y":{"field":"f","type":"quantitative","title":null,"axis":{"orient":"left","values":[-25,-15,-5,5,15,25],"labels":false,"ticks":false,"gridWidth":0.45}}}},
{"transform":[{"filter":"isValid(datum.name)"}],"mark":{"type":"rect","fill":"#d9d9d9","stroke":"#333333","strokeWidth":1},"encoding":{"y":{"datum":25.5,"axis":null},"y2":{"datum":32.38}}},
{"transform":[{"filter":"isValid(datum.name)"}],"mark":{"type":"text","fontSize":8.5,"color":"#1a1a1a"},"encoding":{"y":{"datum":28.94,"axis":null},"text":{"field":"name"}}},
{"transform":[{"filter":"isValid(datum.name)"}],"mark":{"type":"text","fontSize":11,"color":"#000000"},"encoding":{"y":{"datum":20,"axis":null},"text":{"field":"tt"}}}
]},
{"width":52.75,"height":122,"transform":[{"filter":"datum.m==3"}],"resolve":{"axis":{"x":"independent","y":"independent"}},"layer":[
{"transform":[{"filter":"isValid(datum.t)"}],"mark":{"type":"circle","size":6,"opacity":1,"color":"#4a18d8"},"encoding":{"x":{"field":"yr","type":"quantitative","title":null,"scale":{"domain":[1979.2,2018.8],"nice":false,"zero":false},"axis":{"orient":"bottom","values":[1985,2005],"format":"d","gridWidth":0.9}},"y":{"field":"t","type":"quantitative","title":null,"scale":{"domain":[-25.18,32.38],"nice":false,"zero":false},"axis":{"orient":"left","values":[-20,-10,0,10,20],"labels":false,"ticks":false,"gridWidth":0.9}}}},
{"transform":[{"filter":"isValid(datum.f)"}],"mark":{"type":"area","color":"#999999","opacity":0.4,"interpolate":"monotone"},"encoding":{"x":{"field":"yr","type":"quantitative","title":null,"axis":{"orient":"bottom","values":[1995,2015],"format":"d","gridWidth":0.9}},"y":{"field":"fl","type":"quantitative","title":null,"axis":null},"y2":{"field":"fh"}}},
{"transform":[{"filter":"isValid(datum.f)"}],"mark":{"type":"line","strokeWidth":1.6,"interpolate":"monotone","color":"#4a18d8"},"encoding":{"x":{"field":"yr","type":"quantitative","title":null,"axis":{"orient":"bottom","values":[1980,1990,2000,2010],"labels":false,"ticks":false,"gridWidth":0.45}},"y":{"field":"f","type":"quantitative","title":null,"axis":{"orient":"left","values":[-25,-15,-5,5,15,25],"labels":false,"ticks":false,"gridWidth":0.45}}}},
{"transform":[{"filter":"isValid(datum.name)"}],"mark":{"type":"rect","fill":"#d9d9d9","stroke":"#333333","strokeWidth":1},"encoding":{"y":{"datum":25.5,"axis":null},"y2":{"datum":32.38}}},
{"transform":[{"filter":"isValid(datum.name)"}],"mark":{"type":"text","fontSize":8.5,"color":"#1a1a1a"},"encoding":{"y":{"datum":28.94,"axis":null},"text":{"field":"name"}}},
{"transform":[{"filter":"isValid(datum.name)"}],"mark":{"type":"text","fontSize":11,"color":"#000000","fontWeight":"bold","fontStyle":"italic"},"encoding":{"y":{"datum":20,"axis":null},"text":{"field":"tt"}}}
]},
{"width":52.75,"height":122,"transform":[{"filter":"datum.m==4"}],"resolve":{"axis":{"x":"independent","y":"independent"}},"layer":[
{"transform":[{"filter":"isValid(datum.t)"}],"mark":{"type":"circle","size":6,"opacity":1,"color":"#7d1aa8"},"encoding":{"x":{"field":"yr","type":"quantitative","title":null,"scale":{"domain":[1979.2,2018.8],"nice":false,"zero":false},"axis":{"orient":"bottom","values":[1985,2005],"format":"d","gridWidth":0.9}},"y":{"field":"t","type":"quantitative","title":null,"scale":{"domain":[-25.18,32.38],"nice":false,"zero":false},"axis":{"orient":"left","values":[-20,-10,0,10,20],"labels":false,"ticks":false,"gridWidth":0.9}}}},
{"transform":[{"filter":"isValid(datum.f)"}],"mark":{"type":"area","color":"#999999","opacity":0.4,"interpolate":"monotone"},"encoding":{"x":{"field":"yr","type":"quantitative","title":null,"axis":{"orient":"bottom","values":[1995,2015],"format":"d","gridWidth":0.9}},"y":{"field":"fl","type":"quantitative","title":null,"axis":null},"y2":{"field":"fh"}}},
{"transform":[{"filter":"isValid(datum.f)"}],"mark":{"type":"line","strokeWidth":1.6,"interpolate":"monotone","color":"#7d1aa8"},"encoding":{"x":{"field":"yr","type":"quantitative","title":null,"axis":{"orient":"bottom","values":[1980,1990,2000,2010],"labels":false,"ticks":false,"gridWidth":0.45}},"y":{"field":"f","type":"quantitative","title":null,"axis":{"orient":"left","values":[-25,-15,-5,5,15,25],"labels":false,"ticks":false,"gridWidth":0.45}}}},
{"transform":[{"filter":"isValid(datum.name)"}],"mark":{"type":"rect","fill":"#d9d9d9","stroke":"#333333","strokeWidth":1},"encoding":{"y":{"datum":25.5,"axis":null},"y2":{"datum":32.38}}},
{"transform":[{"filter":"isValid(datum.name)"}],"mark":{"type":"text","fontSize":8.5,"color":"#1a1a1a"},"encoding":{"y":{"datum":28.94,"axis":null},"text":{"field":"name"}}},
{"transform":[{"filter":"isValid(datum.name)"}],"mark":{"type":"text","fontSize":11,"color":"#000000"},"encoding":{"y":{"datum":20,"axis":null},"text":{"field":"tt"}}}
]},
{"width":52.75,"height":122,"transform":[{"filter":"datum.m==5"}],"resolve":{"axis":{"x":"independent","y":"independent"}},"layer":[
{"transform":[{"filter":"isValid(datum.t)"}],"mark":{"type":"circle","size":6,"opacity":1,"color":"#a3157a"},"encoding":{"x":{"field":"yr","type":"quantitative","title":null,"scale":{"domain":[1979.2,2018.8],"nice":false,"zero":false},"axis":{"orient":"bottom","values":[1985,2005],"format":"d","gridWidth":0.9}},"y":{"field":"t","type":"quantitative","title":null,"scale":{"domain":[-25.18,32.38],"nice":false,"zero":false},"axis":{"orient":"left","values":[-20,-10,0,10,20],"labels":false,"ticks":false,"gridWidth":0.9}}}},
{"transform":[{"filter":"isValid(datum.f)"}],"mark":{"type":"area","color":"#999999","opacity":0.4,"interpolate":"monotone"},"encoding":{"x":{"field":"yr","type":"quantitative","title":null,"axis":{"orient":"bottom","values":[1995,2015],"format":"d","gridWidth":0.9}},"y":{"field":"fl","type":"quantitative","title":null,"axis":null},"y2":{"field":"fh"}}},
{"transform":[{"filter":"isValid(datum.f)"}],"mark":{"type":"line","strokeWidth":1.6,"interpolate":"monotone","color":"#a3157a"},"encoding":{"x":{"field":"yr","type":"quantitative","title":null,"axis":{"orient":"bottom","values":[1980,1990,2000,2010],"labels":false,"ticks":false,"gridWidth":0.45}},"y":{"field":"f","type":"quantitative","title":null,"axis":{"orient":"left","values":[-25,-15,-5,5,15,25],"labels":false,"ticks":false,"gridWidth":0.45}}}},
{"transform":[{"filter":"isValid(datum.name)"}],"mark":{"type":"rect","fill":"#d9d9d9","stroke":"#333333","strokeWidth":1},"encoding":{"y":{"datum":25.5,"axis":null},"y2":{"datum":32.38}}},
{"transform":[{"filter":"isValid(datum.name)"}],"mark":{"type":"text","fontSize":8.5,"color":"#1a1a1a"},"encoding":{"y":{"datum":28.94,"axis":null},"text":{"field":"name"}}},
{"transform":[{"filter":"isValid(datum.name)"}],"mark":{"type":"text","fontSize":11,"color":"#000000","fontWeight":"bold","fontStyle":"italic"},"encoding":{"y":{"datum":20,"axis":null},"text":{"field":"tt"}}}
]},
{"width":52.75,"height":122,"transform":[{"filter":"datum.m==6"}],"resolve":{"axis":{"x":"independent","y":"independent"}},"layer":[
{"transform":[{"filter":"isValid(datum.t)"}],"mark":{"type":"circle","size":6,"opacity":1,"color":"#d40c45"},"encoding":{"x":{"field":"yr","type":"quantitative","title":null,"scale":{"domain":[1979.2,2018.8],"nice":false,"zero":false},"axis":{"orient":"bottom","values":[1985,2005],"format":"d","gridWidth":0.9}},"y":{"field":"t","type":"quantitative","title":null,"scale":{"domain":[-25.18,32.38],"nice":false,"zero":false},"axis":{"orient":"left","values":[-20,-10,0,10,20],"labels":false,"ticks":false,"gridWidth":0.9}}}},
{"transform":[{"filter":"isValid(datum.f)"}],"mark":{"type":"area","color":"#999999","opacity":0.4,"interpolate":"monotone"},"encoding":{"x":{"field":"yr","type":"quantitative","title":null,"axis":{"orient":"bottom","values":[1995,2015],"format":"d","gridWidth":0.9}},"y":{"field":"fl","type":"quantitative","title":null,"axis":null},"y2":{"field":"fh"}}},
{"transform":[{"filter":"isValid(datum.f)"}],"mark":{"type":"line","strokeWidth":1.6,"interpolate":"monotone","color":"#d40c45"},"encoding":{"x":{"field":"yr","type":"quantitative","title":null,"axis":{"orient":"bottom","values":[1980,1990,2000,2010],"labels":false,"ticks":false,"gridWidth":0.45}},"y":{"field":"f","type":"quantitative","title":null,"axis":{"orient":"left","values":[-25,-15,-5,5,15,25],"labels":false,"ticks":false,"gridWidth":0.45}}}},
{"transform":[{"filter":"isValid(datum.name)"}],"mark":{"type":"rect","fill":"#d9d9d9","stroke":"#333333","strokeWidth":1},"encoding":{"y":{"datum":25.5,"axis":null},"y2":{"datum":32.38}}},
{"transform":[{"filter":"isValid(datum.name)"}],"mark":{"type":"text","fontSize":8.5,"color":"#1a1a1a"},"encoding":{"y":{"datum":28.94,"axis":null},"text":{"field":"name"}}},
{"transform":[{"filter":"isValid(datum.name)"}],"mark":{"type":"text","fontSize":11,"color":"#000000","fontWeight":"bold","fontStyle":"italic"},"encoding":{"y":{"datum":9.3,"axis":null},"text":{"field":"tt"}}}
]},
{"width":52.75,"height":122,"transform":[{"filter":"datum.m==7"}],"resolve":{"axis":{"x":"independent","y":"independent"}},"layer":[
{"transform":[{"filter":"isValid(datum.t)"}],"mark":{"type":"circle","size":6,"opacity":1,"color":"#ff0000"},"encoding":{"x":{"field":"yr","type":"quantitative","title":null,"scale":{"domain":[1979.2,2018.8],"nice":false,"zero":false},"axis":{"orient":"bottom","values":[1985,2005],"format":"d","gridWidth":0.9}},"y":{"field":"t","type":"quantitative","title":null,"scale":{"domain":[-25.18,32.38],"nice":false,"zero":false},"axis":{"orient":"left","values":[-20,-10,0,10,20],"labels":false,"ticks":false,"gridWidth":0.9}}}},
{"transform":[{"filter":"isValid(datum.f)"}],"mark":{"type":"area","color":"#999999","opacity":0.4,"interpolate":"monotone"},"encoding":{"x":{"field":"yr","type":"quantitative","title":null,"axis":{"orient":"bottom","values":[1995,2015],"format":"d","gridWidth":0.9}},"y":{"field":"fl","type":"quantitative","title":null,"axis":null},"y2":{"field":"fh"}}},
{"transform":[{"filter":"isValid(datum.f)"}],"mark":{"type":"line","strokeWidth":1.6,"interpolate":"monotone","color":"#ff0000"},"encoding":{"x":{"field":"yr","type":"quantitative","title":null,"axis":{"orient":"bottom","values":[1980,1990,2000,2010],"labels":false,"ticks":false,"gridWidth":0.45}},"y":{"field":"f","type":"quantitative","title":null,"axis":{"orient":"left","values":[-25,-15,-5,5,15,25],"labels":false,"ticks":false,"gridWidth":0.45}}}},
{"transform":[{"filter":"isValid(datum.name)"}],"mark":{"type":"rect","fill":"#d9d9d9","stroke":"#333333","strokeWidth":1},"encoding":{"y":{"datum":25.5,"axis":null},"y2":{"datum":32.38}}},
{"transform":[{"filter":"isValid(datum.name)"}],"mark":{"type":"text","fontSize":8.5,"color":"#1a1a1a"},"encoding":{"y":{"datum":28.94,"axis":null},"text":{"field":"name"}}},
{"transform":[{"filter":"isValid(datum.name)"}],"mark":{"type":"text","fontSize":11,"color":"#000000","fontWeight":"bold","fontStyle":"italic"},"encoding":{"y":{"datum":9.3,"axis":null},"text":{"field":"tt"}}}
]},
{"width":52.75,"height":122,"transform":[{"filter":"datum.m==8"}],"resolve":{"axis":{"x":"independent","y":"independent"}},"layer":[
{"transform":[{"filter":"isValid(datum.t)"}],"mark":{"type":"circle","size":6,"opacity":1,"color":"#f5000f"},"encoding":{"x":{"field":"yr","type":"quantitative","title":null,"scale":{"domain":[1979.2,2018.8],"nice":false,"zero":false},"axis":{"orient":"bottom","values":[1985,2005],"format":"d","gridWidth":0.9}},"y":{"field":"t","type":"quantitative","title":null,"scale":{"domain":[-25.18,32.38],"nice":false,"zero":false},"axis":{"orient":"left","values":[-20,-10,0,10,20],"labels":false,"ticks":false,"gridWidth":0.9}}}},
{"transform":[{"filter":"isValid(datum.f)"}],"mark":{"type":"area","color":"#999999","opacity":0.4,"interpolate":"monotone"},"encoding":{"x":{"field":"yr","type":"quantitative","title":null,"axis":{"orient":"bottom","values":[1995,2015],"format":"d","gridWidth":0.9}},"y":{"field":"fl","type":"quantitative","title":null,"axis":null},"y2":{"field":"fh"}}},
{"transform":[{"filter":"isValid(datum.f)"}],"mark":{"type":"line","strokeWidth":1.6,"interpolate":"monotone","color":"#f5000f"},"encoding":{"x":{"field":"yr","type":"quantitative","title":null,"axis":{"orient":"bottom","values":[1980,1990,2000,2010],"labels":false,"ticks":false,"gridWidth":0.45}},"y":{"field":"f","type":"quantitative","title":null,"axis":{"orient":"left","values":[-25,-15,-5,5,15,25],"labels":false,"ticks":false,"gridWidth":0.45}}}},
{"transform":[{"filter":"isValid(datum.name)"}],"mark":{"type":"rect","fill":"#d9d9d9","stroke":"#333333","strokeWidth":1},"encoding":{"y":{"datum":25.5,"axis":null},"y2":{"datum":32.38}}},
{"transform":[{"filter":"isValid(datum.name)"}],"mark":{"type":"text","fontSize":8.5,"color":"#1a1a1a"},"encoding":{"y":{"datum":28.94,"axis":null},"text":{"field":"name"}}},
{"transform":[{"filter":"isValid(datum.name)"}],"mark":{"type":"text","fontSize":11,"color":"#000000","fontWeight":"bold","fontStyle":"italic"},"encoding":{"y":{"datum":9.3,"axis":null},"text":{"field":"tt"}}}
]},
{"width":52.75,"height":122,"transform":[{"filter":"datum.m==9"}],"resolve":{"axis":{"x":"independent","y":"independent"}},"layer":[
{"transform":[{"filter":"isValid(datum.t)"}],"mark":{"type":"circle","size":6,"opacity":1,"color":"#cc0e55"},"encoding":{"x":{"field":"yr","type":"quantitative","title":null,"scale":{"domain":[1979.2,2018.8],"nice":false,"zero":false},"axis":{"orient":"bottom","values":[1985,2005],"format":"d","gridWidth":0.9}},"y":{"field":"t","type":"quantitative","title":null,"scale":{"domain":[-25.18,32.38],"nice":false,"zero":false},"axis":{"orient":"left","values":[-20,-10,0,10,20],"labels":false,"ticks":false,"gridWidth":0.9}}}},
{"transform":[{"filter":"isValid(datum.f)"}],"mark":{"type":"area","color":"#999999","opacity":0.4,"interpolate":"monotone"},"encoding":{"x":{"field":"yr","type":"quantitative","title":null,"axis":{"orient":"bottom","values":[1995,2015],"format":"d","gridWidth":0.9}},"y":{"field":"fl","type":"quantitative","title":null,"axis":null},"y2":{"field":"fh"}}},
{"transform":[{"filter":"isValid(datum.f)"}],"mark":{"type":"line","strokeWidth":1.6,"interpolate":"monotone","color":"#cc0e55"},"encoding":{"x":{"field":"yr","type":"quantitative","title":null,"axis":{"orient":"bottom","values":[1980,1990,2000,2010],"labels":false,"ticks":false,"gridWidth":0.45}},"y":{"field":"f","type":"quantitative","title":null,"axis":{"orient":"left","values":[-25,-15,-5,5,15,25],"labels":false,"ticks":false,"gridWidth":0.45}}}},
{"transform":[{"filter":"isValid(datum.name)"}],"mark":{"type":"rect","fill":"#d9d9d9","stroke":"#333333","strokeWidth":1},"encoding":{"y":{"datum":25.5,"axis":null},"y2":{"datum":32.38}}},
{"transform":[{"filter":"isValid(datum.name)"}],"mark":{"type":"text","fontSize":8.5,"color":"#1a1a1a"},"encoding":{"y":{"datum":28.94,"axis":null},"text":{"field":"name"}}},
{"transform":[{"filter":"isValid(datum.name)"}],"mark":{"type":"text","fontSize":11,"color":"#000000","fontWeight":"bold","fontStyle":"italic"},"encoding":{"y":{"datum":20,"axis":null},"text":{"field":"tt"}}}
]},
{"width":52.75,"height":122,"transform":[{"filter":"datum.m==10"}],"resolve":{"axis":{"x":"independent","y":"independent"}},"layer":[
{"transform":[{"filter":"isValid(datum.t)"}],"mark":{"type":"circle","size":6,"opacity":1,"color":"#9a1585"},"encoding":{"x":{"field":"yr","type":"quantitative","title":null,"scale":{"domain":[1979.2,2018.8],"nice":false,"zero":false},"axis":{"orient":"bottom","values":[1985,2005],"format":"d","gridWidth":0.9}},"y":{"field":"t","type":"quantitative","title":null,"scale":{"domain":[-25.18,32.38],"nice":false,"zero":false},"axis":{"orient":"left","values":[-20,-10,0,10,20],"labels":false,"ticks":false,"gridWidth":0.9}}}},
{"transform":[{"filter":"isValid(datum.f)"}],"mark":{"type":"area","color":"#999999","opacity":0.4,"interpolate":"monotone"},"encoding":{"x":{"field":"yr","type":"quantitative","title":null,"axis":{"orient":"bottom","values":[1995,2015],"format":"d","gridWidth":0.9}},"y":{"field":"fl","type":"quantitative","title":null,"axis":null},"y2":{"field":"fh"}}},
{"transform":[{"filter":"isValid(datum.f)"}],"mark":{"type":"line","strokeWidth":1.6,"interpolate":"monotone","color":"#9a1585"},"encoding":{"x":{"field":"yr","type":"quantitative","title":null,"axis":{"orient":"bottom","values":[1980,1990,2000,2010],"labels":false,"ticks":false,"gridWidth":0.45}},"y":{"field":"f","type":"quantitative","title":null,"axis":{"orient":"left","values":[-25,-15,-5,5,15,25],"labels":false,"ticks":false,"gridWidth":0.45}}}},
{"transform":[{"filter":"isValid(datum.name)"}],"mark":{"type":"rect","fill":"#d9d9d9","stroke":"#333333","strokeWidth":1},"encoding":{"y":{"datum":25.5,"axis":null},"y2":{"datum":32.38}}},
{"transform":[{"filter":"isValid(datum.name)"}],"mark":{"type":"text","fontSize":8.5,"color":"#1a1a1a"},"encoding":{"y":{"datum":28.94,"axis":null},"text":{"field":"name"}}},
{"transform":[{"filter":"isValid(datum.name)"}],"mark":{"type":"text","fontSize":11,"color":"#000000"},"encoding":{"y":{"datum":20,"axis":null},"text":{"field":"tt"}}}
]},
{"width":52.75,"height":122,"transform":[{"filter":"datum.m==11"}],"resolve":{"axis":{"x":"independent","y":"independent"}},"layer":[
{"transform":[{"filter":"isValid(datum.t)"}],"mark":{"type":"circle","size":6,"opacity":1,"color":"#6419c0"},"encoding":{"x":{"field":"yr","type":"quantitative","title":null,"scale":{"domain":[1979.2,2018.8],"nice":false,"zero":false},"axis":{"orient":"bottom","values":[1985,2005],"format":"d","gridWidth":0.9}},"y":{"field":"t","type":"quantitative","title":null,"scale":{"domain":[-25.18,32.38],"nice":false,"zero":false},"axis":{"orient":"left","values":[-20,-10,0,10,20],"labels":false,"ticks":false,"gridWidth":0.9}}}},
{"transform":[{"filter":"isValid(datum.f)"}],"mark":{"type":"area","color":"#999999","opacity":0.4,"interpolate":"monotone"},"encoding":{"x":{"field":"yr","type":"quantitative","title":null,"axis":{"orient":"bottom","values":[1995,2015],"format":"d","gridWidth":0.9}},"y":{"field":"fl","type":"quantitative","title":null,"axis":null},"y2":{"field":"fh"}}},
{"transform":[{"filter":"isValid(datum.f)"}],"mark":{"type":"line","strokeWidth":1.6,"interpolate":"monotone","color":"#6419c0"},"encoding":{"x":{"field":"yr","type":"quantitative","title":null,"axis":{"orient":"bottom","values":[1980,1990,2000,2010],"labels":false,"ticks":false,"gridWidth":0.45}},"y":{"field":"f","type":"quantitative","title":null,"axis":{"orient":"left","values":[-25,-15,-5,5,15,25],"labels":false,"ticks":false,"gridWidth":0.45}}}},
{"transform":[{"filter":"isValid(datum.name)"}],"mark":{"type":"rect","fill":"#d9d9d9","stroke":"#333333","strokeWidth":1},"encoding":{"y":{"datum":25.5,"axis":null},"y2":{"datum":32.38}}},
{"transform":[{"filter":"isValid(datum.name)"}],"mark":{"type":"text","fontSize":8.5,"color":"#1a1a1a"},"encoding":{"y":{"datum":28.94,"axis":null},"text":{"field":"name"}}},
{"transform":[{"filter":"isValid(datum.name)"}],"mark":{"type":"text","fontSize":11,"color":"#000000"},"encoding":{"y":{"datum":20,"axis":null},"text":{"field":"tt"}}}
]},
{"width":52.75,"height":122,"transform":[{"filter":"datum.m==12"}],"resolve":{"axis":{"x":"independent","y":"independent"}},"layer":[
{"transform":[{"filter":"isValid(datum.t)"}],"mark":{"type":"circle","size":6,"opacity":1,"color":"#2c0ce6"},"encoding":{"x":{"field":"yr","type":"quantitative","title":null,"scale":{"domain":[1979.2,2018.8],"nice":false,"zero":false},"axis":{"orient":"bottom","values":[1985,2005],"format":"d","gridWidth":0.9}},"y":{"field":"t","type":"quantitative","title":null,"scale":{"domain":[-25.18,32.38],"nice":false,"zero":false},"axis":{"orient":"left","values":[-20,-10,0,10,20],"labels":false,"ticks":false,"gridWidth":0.9}}}},
{"transform":[{"filter":"isValid(datum.f)"}],"mark":{"type":"area","color":"#999999","opacity":0.4,"interpolate":"monotone"},"encoding":{"x":{"field":"yr","type":"quantitative","title":null,"axis":{"orient":"bottom","values":[1995,2015],"format":"d","gridWidth":0.9}},"y":{"field":"fl","type":"quantitative","title":null,"axis":null},"y2":{"field":"fh"}}},
{"transform":[{"filter":"isValid(datum.f)"}],"mark":{"type":"line","strokeWidth":1.6,"interpolate":"monotone","color":"#2c0ce6"},"encoding":{"x":{"field":"yr","type":"quantitative","title":null,"axis":{"orient":"bottom","values":[1980,1990,2000,2010],"labels":false,"ticks":false,"gridWidth":0.45}},"y":{"field":"f","type":"quantitative","title":null,"axis":{"orient":"left","values":[-25,-15,-5,5,15,25],"labels":false,"ticks":false,"gridWidth":0.45}}}},
{"transform":[{"filter":"isValid(datum.name)"}],"mark":{"type":"rect","fill":"#d9d9d9","stroke":"#333333","strokeWidth":1},"encoding":{"y":{"datum":25.5,"axis":null},"y2":{"datum":32.38}}},
{"transform":[{"filter":"isValid(datum.name)"}],"mark":{"type":"text","fontSize":8.5,"color":"#1a1a1a"},"encoding":{"y":{"datum":28.94,"axis":null},"text":{"field":"name"}}},
{"transform":[{"filter":"isValid(datum.name)"}],"mark":{"type":"text","fontSize":11,"color":"#000000"},"encoding":{"y":{"datum":20,"axis":null},"text":{"field":"tt"}}}
]}
 ]},
{"title": {"text": "(b)", "anchor": "start", "align": "left", "frame": "bounds", "fontSize": 13, "fontWeight": "normal", "offset": 2, "dx": 19},
 "spacing": 1, "bounds": "flush",
 "hconcat": [
{"width":52.75,"height":123,"transform":[{"filter":"datum.m==1"}],"resolve":{"axis":{"x":"independent","y":"independent"}},"layer":[
{"transform":[{"filter":"isValid(datum.p)"}],"mark":{"type":"circle","size":6,"opacity":1,"color":"#0000ff"},"encoding":{"x":{"field":"yr","type":"quantitative","title":null,"scale":{"domain":[1979.2,2018.8],"nice":false,"zero":false},"axis":{"orient":"bottom","values":[1985,2005],"format":"d","gridWidth":0.9}},"y":{"field":"p","type":"quantitative","title":"Precipitation (mm)","scale":{"domain":[-8.28,195.4],"nice":false,"zero":false},"axis":{"orient":"left","values":[0,100],"labelExpr":"'' + datum.value","gridWidth":0.9}}}},
{"transform":[{"filter":"isValid(datum.g)"}],"mark":{"type":"area","color":"#999999","opacity":0.4,"interpolate":"monotone"},"encoding":{"x":{"field":"yr","type":"quantitative","title":null,"axis":{"orient":"bottom","values":[1995,2015],"format":"d","gridWidth":0.9}},"y":{"field":"gl","type":"quantitative","title":null,"axis":{"orient":"left","values":[50,150],"labelExpr":"'' + datum.value","gridWidth":0.9}},"y2":{"field":"gh"}}},
{"transform":[{"filter":"isValid(datum.g)"}],"mark":{"type":"line","strokeWidth":1.6,"interpolate":"monotone","color":"#0000ff"},"encoding":{"x":{"field":"yr","type":"quantitative","title":null,"axis":{"orient":"bottom","values":[1980,1990,2000,2010],"labels":false,"ticks":false,"gridWidth":0.45}},"y":{"field":"g","type":"quantitative","title":null,"axis":{"orient":"left","values":[25,75,125],"labels":false,"ticks":false,"gridWidth":0.45}}}},
{"transform":[{"filter":"isValid(datum.name)"}],"mark":{"type":"rect","fill":"#d9d9d9","stroke":"#333333","strokeWidth":1},"encoding":{"y":{"datum":170.5,"axis":null},"y2":{"datum":195.4}}},
{"transform":[{"filter":"isValid(datum.name)"}],"mark":{"type":"text","fontSize":8.5,"color":"#1a1a1a"},"encoding":{"y":{"datum":183,"axis":null},"text":{"field":"name"}}},
{"transform":[{"filter":"isValid(datum.name)"}],"mark":{"type":"text","fontSize":11,"color":"#000000"},"encoding":{"y":{"datum":89.5,"axis":null},"text":{"field":"pt"}}}
]},
{"width":52.75,"height":123,"transform":[{"filter":"datum.m==2"}],"resolve":{"axis":{"x":"independent","y":"independent"}},"layer":[
{"transform":[{"filter":"isValid(datum.p)"}],"mark":{"type":"circle","size":6,"opacity":1,"color":"#1005f8"},"encoding":{"x":{"field":"yr","type":"quantitative","title":null,"scale":{"domain":[1979.2,2018.8],"nice":false,"zero":false},"axis":{"orient":"bottom","values":[1985,2005],"format":"d","gridWidth":0.9}},"y":{"field":"p","type":"quantitative","title":null,"scale":{"domain":[-8.28,195.4],"nice":false,"zero":false},"axis":{"orient":"left","values":[0,50,100,150],"labels":false,"ticks":false,"gridWidth":0.9}}}},
{"transform":[{"filter":"isValid(datum.g)"}],"mark":{"type":"area","color":"#999999","opacity":0.4,"interpolate":"monotone"},"encoding":{"x":{"field":"yr","type":"quantitative","title":null,"axis":{"orient":"bottom","values":[1995,2015],"format":"d","gridWidth":0.9}},"y":{"field":"gl","type":"quantitative","title":null,"axis":null},"y2":{"field":"gh"}}},
{"transform":[{"filter":"isValid(datum.g)"}],"mark":{"type":"line","strokeWidth":1.6,"interpolate":"monotone","color":"#1005f8"},"encoding":{"x":{"field":"yr","type":"quantitative","title":null,"axis":{"orient":"bottom","values":[1980,1990,2000,2010],"labels":false,"ticks":false,"gridWidth":0.45}},"y":{"field":"g","type":"quantitative","title":null,"axis":{"orient":"left","values":[25,75,125],"labels":false,"ticks":false,"gridWidth":0.45}}}},
{"transform":[{"filter":"isValid(datum.name)"}],"mark":{"type":"rect","fill":"#d9d9d9","stroke":"#333333","strokeWidth":1},"encoding":{"y":{"datum":170.5,"axis":null},"y2":{"datum":195.4}}},
{"transform":[{"filter":"isValid(datum.name)"}],"mark":{"type":"text","fontSize":8.5,"color":"#1a1a1a"},"encoding":{"y":{"datum":183,"axis":null},"text":{"field":"name"}}},
{"transform":[{"filter":"isValid(datum.name)"}],"mark":{"type":"text","fontSize":11,"color":"#000000"},"encoding":{"y":{"datum":89.5,"axis":null},"text":{"field":"pt"}}}
]},
{"width":52.75,"height":123,"transform":[{"filter":"datum.m==3"}],"resolve":{"axis":{"x":"independent","y":"independent"}},"layer":[
{"transform":[{"filter":"isValid(datum.p)"}],"mark":{"type":"circle","size":6,"opacity":1,"color":"#4a18d8"},"encoding":{"x":{"field":"yr","type":"quantitative","title":null,"scale":{"domain":[1979.2,2018.8],"nice":false,"zero":false},"axis":{"orient":"bottom","values":[1985,2005],"format":"d","gridWidth":0.9}},"y":{"field":"p","type":"quantitative","title":null,"scale":{"domain":[-8.28,195.4],"nice":false,"zero":false},"axis":{"orient":"left","values":[0,50,100,150],"labels":false,"ticks":false,"gridWidth":0.9}}}},
{"transform":[{"filter":"isValid(datum.g)"}],"mark":{"type":"area","color":"#999999","opacity":0.4,"interpolate":"monotone"},"encoding":{"x":{"field":"yr","type":"quantitative","title":null,"axis":{"orient":"bottom","values":[1995,2015],"format":"d","gridWidth":0.9}},"y":{"field":"gl","type":"quantitative","title":null,"axis":null},"y2":{"field":"gh"}}},
{"transform":[{"filter":"isValid(datum.g)"}],"mark":{"type":"line","strokeWidth":1.6,"interpolate":"monotone","color":"#4a18d8"},"encoding":{"x":{"field":"yr","type":"quantitative","title":null,"axis":{"orient":"bottom","values":[1980,1990,2000,2010],"labels":false,"ticks":false,"gridWidth":0.45}},"y":{"field":"g","type":"quantitative","title":null,"axis":{"orient":"left","values":[25,75,125],"labels":false,"ticks":false,"gridWidth":0.45}}}},
{"transform":[{"filter":"isValid(datum.name)"}],"mark":{"type":"rect","fill":"#d9d9d9","stroke":"#333333","strokeWidth":1},"encoding":{"y":{"datum":170.5,"axis":null},"y2":{"datum":195.4}}},
{"transform":[{"filter":"isValid(datum.name)"}],"mark":{"type":"text","fontSize":8.5,"color":"#1a1a1a"},"encoding":{"y":{"datum":183,"axis":null},"text":{"field":"name"}}},
{"transform":[{"filter":"isValid(datum.name)"}],"mark":{"type":"text","fontSize":11,"color":"#000000"},"encoding":{"y":{"datum":89.5,"axis":null},"text":{"field":"pt"}}}
]},
{"width":52.75,"height":123,"transform":[{"filter":"datum.m==4"}],"resolve":{"axis":{"x":"independent","y":"independent"}},"layer":[
{"transform":[{"filter":"isValid(datum.p)"}],"mark":{"type":"circle","size":6,"opacity":1,"color":"#7d1aa8"},"encoding":{"x":{"field":"yr","type":"quantitative","title":null,"scale":{"domain":[1979.2,2018.8],"nice":false,"zero":false},"axis":{"orient":"bottom","values":[1985,2005],"format":"d","gridWidth":0.9}},"y":{"field":"p","type":"quantitative","title":null,"scale":{"domain":[-8.28,195.4],"nice":false,"zero":false},"axis":{"orient":"left","values":[0,50,100,150],"labels":false,"ticks":false,"gridWidth":0.9}}}},
{"transform":[{"filter":"isValid(datum.g)"}],"mark":{"type":"area","color":"#999999","opacity":0.4,"interpolate":"monotone"},"encoding":{"x":{"field":"yr","type":"quantitative","title":null,"axis":{"orient":"bottom","values":[1995,2015],"format":"d","gridWidth":0.9}},"y":{"field":"gl","type":"quantitative","title":null,"axis":null},"y2":{"field":"gh"}}},
{"transform":[{"filter":"isValid(datum.g)"}],"mark":{"type":"line","strokeWidth":1.6,"interpolate":"monotone","color":"#7d1aa8"},"encoding":{"x":{"field":"yr","type":"quantitative","title":null,"axis":{"orient":"bottom","values":[1980,1990,2000,2010],"labels":false,"ticks":false,"gridWidth":0.45}},"y":{"field":"g","type":"quantitative","title":null,"axis":{"orient":"left","values":[25,75,125],"labels":false,"ticks":false,"gridWidth":0.45}}}},
{"transform":[{"filter":"isValid(datum.name)"}],"mark":{"type":"rect","fill":"#d9d9d9","stroke":"#333333","strokeWidth":1},"encoding":{"y":{"datum":170.5,"axis":null},"y2":{"datum":195.4}}},
{"transform":[{"filter":"isValid(datum.name)"}],"mark":{"type":"text","fontSize":8.5,"color":"#1a1a1a"},"encoding":{"y":{"datum":183,"axis":null},"text":{"field":"name"}}},
{"transform":[{"filter":"isValid(datum.name)"}],"mark":{"type":"text","fontSize":11,"color":"#000000"},"encoding":{"y":{"datum":89.5,"axis":null},"text":{"field":"pt"}}}
]},
{"width":52.75,"height":123,"transform":[{"filter":"datum.m==5"}],"resolve":{"axis":{"x":"independent","y":"independent"}},"layer":[
{"transform":[{"filter":"isValid(datum.p)"}],"mark":{"type":"circle","size":6,"opacity":1,"color":"#a3157a"},"encoding":{"x":{"field":"yr","type":"quantitative","title":null,"scale":{"domain":[1979.2,2018.8],"nice":false,"zero":false},"axis":{"orient":"bottom","values":[1985,2005],"format":"d","gridWidth":0.9}},"y":{"field":"p","type":"quantitative","title":null,"scale":{"domain":[-8.28,195.4],"nice":false,"zero":false},"axis":{"orient":"left","values":[0,50,100,150],"labels":false,"ticks":false,"gridWidth":0.9}}}},
{"transform":[{"filter":"isValid(datum.g)"}],"mark":{"type":"area","color":"#999999","opacity":0.4,"interpolate":"monotone"},"encoding":{"x":{"field":"yr","type":"quantitative","title":null,"axis":{"orient":"bottom","values":[1995,2015],"format":"d","gridWidth":0.9}},"y":{"field":"gl","type":"quantitative","title":null,"axis":null},"y2":{"field":"gh"}}},
{"transform":[{"filter":"isValid(datum.g)"}],"mark":{"type":"line","strokeWidth":1.6,"interpolate":"monotone","color":"#a3157a"},"encoding":{"x":{"field":"yr","type":"quantitative","title":null,"axis":{"orient":"bottom","values":[1980,1990,2000,2010],"labels":false,"ticks":false,"gridWidth":0.45}},"y":{"field":"g","type":"quantitative","title":null,"axis":{"orient":"left","values":[25,75,125],"labels":false,"ticks":false,"gridWidth":0.45}}}},
{"transform":[{"filter":"isValid(datum.name)"}],"mark":{"type":"rect","fill":"#d9d9d9","stroke":"#333333","strokeWidth":1},"encoding":{"y":{"datum":170.5,"axis":null},"y2":{"datum":195.4}}},
{"transform":[{"filter":"isValid(datum.name)"}],"mark":{"type":"text","fontSize":8.5,"color":"#1a1a1a"},"encoding":{"y":{"datum":183,"axis":null},"text":{"field":"name"}}},
{"transform":[{"filter":"isValid(datum.name)"}],"mark":{"type":"text","fontSize":11,"color":"#000000"},"encoding":{"y":{"datum":89.5,"axis":null},"text":{"field":"pt"}}}
]},
{"width":52.75,"height":123,"transform":[{"filter":"datum.m==6"}],"resolve":{"axis":{"x":"independent","y":"independent"}},"layer":[
{"transform":[{"filter":"isValid(datum.p)"}],"mark":{"type":"circle","size":6,"opacity":1,"color":"#d40c45"},"encoding":{"x":{"field":"yr","type":"quantitative","title":null,"scale":{"domain":[1979.2,2018.8],"nice":false,"zero":false},"axis":{"orient":"bottom","values":[1985,2005],"format":"d","gridWidth":0.9}},"y":{"field":"p","type":"quantitative","title":null,"scale":{"domain":[-8.28,195.4],"nice":false,"zero":false},"axis":{"orient":"left","values":[0,50,100,150],"labels":false,"ticks":false,"gridWidth":0.9}}}},
{"transform":[{"filter":"isValid(datum.g)"}],"mark":{"type":"area","color":"#999999","opacity":0.4,"interpolate":"monotone"},"encoding":{"x":{"field":"yr","type":"quantitative","title":null,"axis":{"orient":"bottom","values":[1995,2015],"format":"d","gridWidth":0.9}},"y":{"field":"gl","type":"quantitative","title":null,"axis":null},"y2":{"field":"gh"}}},
{"transform":[{"filter":"isValid(datum.g)"}],"mark":{"type":"line","strokeWidth":1.6,"interpolate":"monotone","color":"#d40c45"},"encoding":{"x":{"field":"yr","type":"quantitative","title":null,"axis":{"orient":"bottom","values":[1980,1990,2000,2010],"labels":false,"ticks":false,"gridWidth":0.45}},"y":{"field":"g","type":"quantitative","title":null,"axis":{"orient":"left","values":[25,75,125],"labels":false,"ticks":false,"gridWidth":0.45}}}},
{"transform":[{"filter":"isValid(datum.name)"}],"mark":{"type":"rect","fill":"#d9d9d9","stroke":"#333333","strokeWidth":1},"encoding":{"y":{"datum":170.5,"axis":null},"y2":{"datum":195.4}}},
{"transform":[{"filter":"isValid(datum.name)"}],"mark":{"type":"text","fontSize":8.5,"color":"#1a1a1a"},"encoding":{"y":{"datum":183,"axis":null},"text":{"field":"name"}}},
{"transform":[{"filter":"isValid(datum.name)"}],"mark":{"type":"text","fontSize":11,"color":"#000000"},"encoding":{"y":{"datum":6,"axis":null},"text":{"field":"pt"}}}
]},
{"width":52.75,"height":123,"transform":[{"filter":"datum.m==7"}],"resolve":{"axis":{"x":"independent","y":"independent"}},"layer":[
{"transform":[{"filter":"isValid(datum.p)"}],"mark":{"type":"circle","size":6,"opacity":1,"color":"#ff0000"},"encoding":{"x":{"field":"yr","type":"quantitative","title":null,"scale":{"domain":[1979.2,2018.8],"nice":false,"zero":false},"axis":{"orient":"bottom","values":[1985,2005],"format":"d","gridWidth":0.9}},"y":{"field":"p","type":"quantitative","title":null,"scale":{"domain":[-8.28,195.4],"nice":false,"zero":false},"axis":{"orient":"left","values":[0,50,100,150],"labels":false,"ticks":false,"gridWidth":0.9}}}},
{"transform":[{"filter":"isValid(datum.g)"}],"mark":{"type":"area","color":"#999999","opacity":0.4,"interpolate":"monotone"},"encoding":{"x":{"field":"yr","type":"quantitative","title":null,"axis":{"orient":"bottom","values":[1995,2015],"format":"d","gridWidth":0.9}},"y":{"field":"gl","type":"quantitative","title":null,"axis":null},"y2":{"field":"gh"}}},
{"transform":[{"filter":"isValid(datum.g)"}],"mark":{"type":"line","strokeWidth":1.6,"interpolate":"monotone","color":"#ff0000"},"encoding":{"x":{"field":"yr","type":"quantitative","title":null,"axis":{"orient":"bottom","values":[1980,1990,2000,2010],"labels":false,"ticks":false,"gridWidth":0.45}},"y":{"field":"g","type":"quantitative","title":null,"axis":{"orient":"left","values":[25,75,125],"labels":false,"ticks":false,"gridWidth":0.45}}}},
{"transform":[{"filter":"isValid(datum.name)"}],"mark":{"type":"rect","fill":"#d9d9d9","stroke":"#333333","strokeWidth":1},"encoding":{"y":{"datum":170.5,"axis":null},"y2":{"datum":195.4}}},
{"transform":[{"filter":"isValid(datum.name)"}],"mark":{"type":"text","fontSize":8.5,"color":"#1a1a1a"},"encoding":{"y":{"datum":183,"axis":null},"text":{"field":"name"}}},
{"transform":[{"filter":"isValid(datum.name)"}],"mark":{"type":"text","fontSize":11,"color":"#000000"},"encoding":{"y":{"datum":6,"axis":null},"text":{"field":"pt"}}}
]},
{"width":52.75,"height":123,"transform":[{"filter":"datum.m==8"}],"resolve":{"axis":{"x":"independent","y":"independent"}},"layer":[
{"transform":[{"filter":"isValid(datum.p)"}],"mark":{"type":"circle","size":6,"opacity":1,"color":"#f5000f"},"encoding":{"x":{"field":"yr","type":"quantitative","title":null,"scale":{"domain":[1979.2,2018.8],"nice":false,"zero":false},"axis":{"orient":"bottom","values":[1985,2005],"format":"d","gridWidth":0.9}},"y":{"field":"p","type":"quantitative","title":null,"scale":{"domain":[-8.28,195.4],"nice":false,"zero":false},"axis":{"orient":"left","values":[0,50,100,150],"labels":false,"ticks":false,"gridWidth":0.9}}}},
{"transform":[{"filter":"isValid(datum.g)"}],"mark":{"type":"area","color":"#999999","opacity":0.4,"interpolate":"monotone"},"encoding":{"x":{"field":"yr","type":"quantitative","title":null,"axis":{"orient":"bottom","values":[1995,2015],"format":"d","gridWidth":0.9}},"y":{"field":"gl","type":"quantitative","title":null,"axis":null},"y2":{"field":"gh"}}},
{"transform":[{"filter":"isValid(datum.g)"}],"mark":{"type":"line","strokeWidth":1.6,"interpolate":"monotone","color":"#f5000f"},"encoding":{"x":{"field":"yr","type":"quantitative","title":null,"axis":{"orient":"bottom","values":[1980,1990,2000,2010],"labels":false,"ticks":false,"gridWidth":0.45}},"y":{"field":"g","type":"quantitative","title":null,"axis":{"orient":"left","values":[25,75,125],"labels":false,"ticks":false,"gridWidth":0.45}}}},
{"transform":[{"filter":"isValid(datum.name)"}],"mark":{"type":"rect","fill":"#d9d9d9","stroke":"#333333","strokeWidth":1},"encoding":{"y":{"datum":170.5,"axis":null},"y2":{"datum":195.4}}},
{"transform":[{"filter":"isValid(datum.name)"}],"mark":{"type":"text","fontSize":8.5,"color":"#1a1a1a"},"encoding":{"y":{"datum":183,"axis":null},"text":{"field":"name"}}},
{"transform":[{"filter":"isValid(datum.name)"}],"mark":{"type":"text","fontSize":11,"color":"#000000","fontWeight":"bold","fontStyle":"italic"},"encoding":{"y":{"datum":6,"axis":null},"text":{"field":"pt"}}}
]},
{"width":52.75,"height":123,"transform":[{"filter":"datum.m==9"}],"resolve":{"axis":{"x":"independent","y":"independent"}},"layer":[
{"transform":[{"filter":"isValid(datum.p)"}],"mark":{"type":"circle","size":6,"opacity":1,"color":"#cc0e55"},"encoding":{"x":{"field":"yr","type":"quantitative","title":null,"scale":{"domain":[1979.2,2018.8],"nice":false,"zero":false},"axis":{"orient":"bottom","values":[1985,2005],"format":"d","gridWidth":0.9}},"y":{"field":"p","type":"quantitative","title":null,"scale":{"domain":[-8.28,195.4],"nice":false,"zero":false},"axis":{"orient":"left","values":[0,50,100,150],"labels":false,"ticks":false,"gridWidth":0.9}}}},
{"transform":[{"filter":"isValid(datum.g)"}],"mark":{"type":"area","color":"#999999","opacity":0.4,"interpolate":"monotone"},"encoding":{"x":{"field":"yr","type":"quantitative","title":null,"axis":{"orient":"bottom","values":[1995,2015],"format":"d","gridWidth":0.9}},"y":{"field":"gl","type":"quantitative","title":null,"axis":null},"y2":{"field":"gh"}}},
{"transform":[{"filter":"isValid(datum.g)"}],"mark":{"type":"line","strokeWidth":1.6,"interpolate":"monotone","color":"#cc0e55"},"encoding":{"x":{"field":"yr","type":"quantitative","title":null,"axis":{"orient":"bottom","values":[1980,1990,2000,2010],"labels":false,"ticks":false,"gridWidth":0.45}},"y":{"field":"g","type":"quantitative","title":null,"axis":{"orient":"left","values":[25,75,125],"labels":false,"ticks":false,"gridWidth":0.45}}}},
{"transform":[{"filter":"isValid(datum.name)"}],"mark":{"type":"rect","fill":"#d9d9d9","stroke":"#333333","strokeWidth":1},"encoding":{"y":{"datum":170.5,"axis":null},"y2":{"datum":195.4}}},
{"transform":[{"filter":"isValid(datum.name)"}],"mark":{"type":"text","fontSize":8.5,"color":"#1a1a1a"},"encoding":{"y":{"datum":183,"axis":null},"text":{"field":"name"}}},
{"transform":[{"filter":"isValid(datum.name)"}],"mark":{"type":"text","fontSize":11,"color":"#000000"},"encoding":{"y":{"datum":89.5,"axis":null},"text":{"field":"pt"}}}
]},
{"width":52.75,"height":123,"transform":[{"filter":"datum.m==10"}],"resolve":{"axis":{"x":"independent","y":"independent"}},"layer":[
{"transform":[{"filter":"isValid(datum.p)"}],"mark":{"type":"circle","size":6,"opacity":1,"color":"#9a1585"},"encoding":{"x":{"field":"yr","type":"quantitative","title":null,"scale":{"domain":[1979.2,2018.8],"nice":false,"zero":false},"axis":{"orient":"bottom","values":[1985,2005],"format":"d","gridWidth":0.9}},"y":{"field":"p","type":"quantitative","title":null,"scale":{"domain":[-8.28,195.4],"nice":false,"zero":false},"axis":{"orient":"left","values":[0,50,100,150],"labels":false,"ticks":false,"gridWidth":0.9}}}},
{"transform":[{"filter":"isValid(datum.g)"}],"mark":{"type":"area","color":"#999999","opacity":0.4,"interpolate":"monotone"},"encoding":{"x":{"field":"yr","type":"quantitative","title":null,"axis":{"orient":"bottom","values":[1995,2015],"format":"d","gridWidth":0.9}},"y":{"field":"gl","type":"quantitative","title":null,"axis":null},"y2":{"field":"gh"}}},
{"transform":[{"filter":"isValid(datum.g)"}],"mark":{"type":"line","strokeWidth":1.6,"interpolate":"monotone","color":"#9a1585"},"encoding":{"x":{"field":"yr","type":"quantitative","title":null,"axis":{"orient":"bottom","values":[1980,1990,2000,2010],"labels":false,"ticks":false,"gridWidth":0.45}},"y":{"field":"g","type":"quantitative","title":null,"axis":{"orient":"left","values":[25,75,125],"labels":false,"ticks":false,"gridWidth":0.45}}}},
{"transform":[{"filter":"isValid(datum.name)"}],"mark":{"type":"rect","fill":"#d9d9d9","stroke":"#333333","strokeWidth":1},"encoding":{"y":{"datum":170.5,"axis":null},"y2":{"datum":195.4}}},
{"transform":[{"filter":"isValid(datum.name)"}],"mark":{"type":"text","fontSize":8.5,"color":"#1a1a1a"},"encoding":{"y":{"datum":183,"axis":null},"text":{"field":"name"}}},
{"transform":[{"filter":"isValid(datum.name)"}],"mark":{"type":"text","fontSize":11,"color":"#000000"},"encoding":{"y":{"datum":89.5,"axis":null},"text":{"field":"pt"}}}
]},
{"width":52.75,"height":123,"transform":[{"filter":"datum.m==11"}],"resolve":{"axis":{"x":"independent","y":"independent"}},"layer":[
{"transform":[{"filter":"isValid(datum.p)"}],"mark":{"type":"circle","size":6,"opacity":1,"color":"#6419c0"},"encoding":{"x":{"field":"yr","type":"quantitative","title":null,"scale":{"domain":[1979.2,2018.8],"nice":false,"zero":false},"axis":{"orient":"bottom","values":[1985,2005],"format":"d","gridWidth":0.9}},"y":{"field":"p","type":"quantitative","title":null,"scale":{"domain":[-8.28,195.4],"nice":false,"zero":false},"axis":{"orient":"left","values":[0,50,100,150],"labels":false,"ticks":false,"gridWidth":0.9}}}},
{"transform":[{"filter":"isValid(datum.g)"}],"mark":{"type":"area","color":"#999999","opacity":0.4,"interpolate":"monotone"},"encoding":{"x":{"field":"yr","type":"quantitative","title":null,"axis":{"orient":"bottom","values":[1995,2015],"format":"d","gridWidth":0.9}},"y":{"field":"gl","type":"quantitative","title":null,"axis":null},"y2":{"field":"gh"}}},
{"transform":[{"filter":"isValid(datum.g)"}],"mark":{"type":"line","strokeWidth":1.6,"interpolate":"monotone","color":"#6419c0"},"encoding":{"x":{"field":"yr","type":"quantitative","title":null,"axis":{"orient":"bottom","values":[1980,1990,2000,2010],"labels":false,"ticks":false,"gridWidth":0.45}},"y":{"field":"g","type":"quantitative","title":null,"axis":{"orient":"left","values":[25,75,125],"labels":false,"ticks":false,"gridWidth":0.45}}}},
{"transform":[{"filter":"isValid(datum.name)"}],"mark":{"type":"rect","fill":"#d9d9d9","stroke":"#333333","strokeWidth":1},"encoding":{"y":{"datum":170.5,"axis":null},"y2":{"datum":195.4}}},
{"transform":[{"filter":"isValid(datum.name)"}],"mark":{"type":"text","fontSize":8.5,"color":"#1a1a1a"},"encoding":{"y":{"datum":183,"axis":null},"text":{"field":"name"}}},
{"transform":[{"filter":"isValid(datum.name)"}],"mark":{"type":"text","fontSize":11,"color":"#000000"},"encoding":{"y":{"datum":89.5,"axis":null},"text":{"field":"pt"}}}
]},
{"width":52.75,"height":123,"transform":[{"filter":"datum.m==12"}],"resolve":{"axis":{"x":"independent","y":"independent"}},"layer":[
{"transform":[{"filter":"isValid(datum.p)"}],"mark":{"type":"circle","size":6,"opacity":1,"color":"#2c0ce6"},"encoding":{"x":{"field":"yr","type":"quantitative","title":null,"scale":{"domain":[1979.2,2018.8],"nice":false,"zero":false},"axis":{"orient":"bottom","values":[1985,2005],"format":"d","gridWidth":0.9}},"y":{"field":"p","type":"quantitative","title":null,"scale":{"domain":[-8.28,195.4],"nice":false,"zero":false},"axis":{"orient":"left","values":[0,50,100,150],"labels":false,"ticks":false,"gridWidth":0.9}}}},
{"transform":[{"filter":"isValid(datum.g)"}],"mark":{"type":"area","color":"#999999","opacity":0.4,"interpolate":"monotone"},"encoding":{"x":{"field":"yr","type":"quantitative","title":null,"axis":{"orient":"bottom","values":[1995,2015],"format":"d","gridWidth":0.9}},"y":{"field":"gl","type":"quantitative","title":null,"axis":null},"y2":{"field":"gh"}}},
{"transform":[{"filter":"isValid(datum.g)"}],"mark":{"type":"line","strokeWidth":1.6,"interpolate":"monotone","color":"#2c0ce6"},"encoding":{"x":{"field":"yr","type":"quantitative","title":null,"axis":{"orient":"bottom","values":[1980,1990,2000,2010],"labels":false,"ticks":false,"gridWidth":0.45}},"y":{"field":"g","type":"quantitative","title":null,"axis":{"orient":"left","values":[25,75,125],"labels":false,"ticks":false,"gridWidth":0.45}}}},
{"transform":[{"filter":"isValid(datum.name)"}],"mark":{"type":"rect","fill":"#d9d9d9","stroke":"#333333","strokeWidth":1},"encoding":{"y":{"datum":170.5,"axis":null},"y2":{"datum":195.4}}},
{"transform":[{"filter":"isValid(datum.name)"}],"mark":{"type":"text","fontSize":8.5,"color":"#1a1a1a"},"encoding":{"y":{"datum":183,"axis":null},"text":{"field":"name"}}},
{"transform":[{"filter":"isValid(datum.name)"}],"mark":{"type":"text","fontSize":11,"color":"#000000","fontWeight":"bold","fontStyle":"italic"},"encoding":{"y":{"datum":89.5,"axis":null},"text":{"field":"pt"}}}
]}
 ]}
],
"config": {
 "font": "Liberation Sans",
 "view": {"stroke": "#333333", "strokeWidth": 1},
 "axis": {"domain": false, "labelColor": "#4d4d4d", "labelFontSize": 8.5, "labelFont": "Liberation Sans", "tickColor": "#333333", "tickSize": 2.5, "tickWidth": 0.8, "gridColor": "#ebebeb", "titleFontSize": 13, "titleFontWeight": "normal", "titleColor": "#000000", "titleFont": "Liberation Sans"},
 "axisX": {"labelAngle": -45, "labelAlign": "right", "labelBaseline": "top", "labelFlush": false, "labelPadding": 1},
 "axisY": {"minExtent": 20, "maxExtent": 20, "titlePadding": 3, "labelPadding": 1.5, "labelFlush": false},
 "title": {"font": "Liberation Sans", "fontSize": 13, "fontWeight": "normal", "color": "#000000"}
}
}
